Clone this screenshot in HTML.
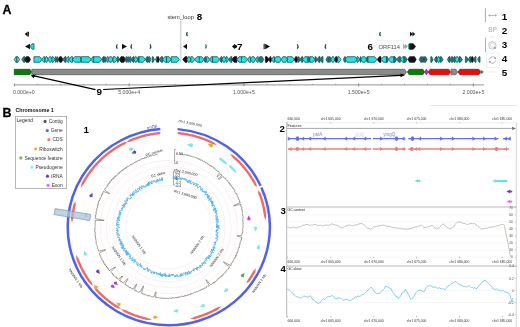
<!DOCTYPE html>
<html><head><meta charset="utf-8"><style>
html,body{margin:0;padding:0;background:#fff;width:520px;height:327px;overflow:hidden}
svg{display:block;filter:blur(0.3px)}
text{font-family:"Liberation Sans", sans-serif}
</style></head><body>
<svg width="520" height="327" viewBox="0 0 520 327">
<text x="2.5" y="13.5" font-size="12.4" fill="#000" font-weight="bold" text-anchor="start" stroke="#000" stroke-width="0.3">A</text>
<line x1="180.8" y1="20.8" x2="180.8" y2="62.5" stroke="#888" stroke-width="0.5"/>
<text x="167.4" y="19.4" font-size="5.75" fill="#333" font-weight="normal" text-anchor="start" >stem_loop</text>
<text x="196.7" y="20.4" font-size="9.8" fill="#000" font-weight="bold" text-anchor="start" >8</text>
<polygon points="24.60,34.10 27.60,31.70 27.60,36.50" fill="#111"/>
<rect x="27.6" y="31.700000000000003" width="1.3" height="4.8" fill="#111"/>
<path d="M187.40,32.10 Q185.80,34.10 187.40,36.10" fill="none" stroke="#1a4a4a" stroke-width="1.25"/>
<path d="M380.50,32.10 Q378.90,34.10 380.50,36.10" fill="none" stroke="#1a4a4a" stroke-width="1.25"/>
<polygon points="412.80,34.10 410.00,31.80 410.00,36.40" fill="#111"/>
<polygon points="415.20,34.10 412.40,31.80 412.40,36.40" fill="#111"/>
<polygon points="25.00,46.50 30.00,43.75 30.00,49.25" fill="#111"/>
<polygon points="30.00,46.50 32.20,43.75 34.00,43.75 34.00,49.25 32.20,49.25" fill="#22e4e4" stroke="#0a4f4f" stroke-width="0.75"/>
<path d="M117.30,44.25 Q115.70,46.50 117.30,48.75" fill="none" stroke="#1a4a4a" stroke-width="1.25"/>
<polygon points="127.00,46.50 122.00,43.75 122.00,49.25" fill="#111"/>
<path d="M131.80,44.25 Q130.20,46.50 131.80,48.75" fill="none" stroke="#1a4a4a" stroke-width="1.25"/>
<path d="M150.00,44.25 Q151.60,46.50 150.00,48.75" fill="none" stroke="#1a4a4a" stroke-width="1.25"/>
<polygon points="183.00,46.50 187.00,43.75 187.00,49.25" fill="#111"/>
<path d="M205.50,44.50 Q207.10,46.50 205.50,48.50" fill="none" stroke="#277" stroke-width="1.25"/>
<polygon points="232.00,46.50 235.00,43.75 235.00,49.25" fill="#111"/>
<circle cx="235.3" cy="46.5" r="1.8" fill="#111"/>
<rect x="263.6" y="43.75" width="1.1" height="5.5" fill="#111"/>
<polygon points="270.00,46.50 265.20,43.75 265.20,49.25" fill="#111"/>
<path d="M297.30,44.25 Q298.90,46.50 297.30,48.75" fill="none" stroke="#1a4a4a" stroke-width="1.25"/>
<path d="M326.00,44.25 Q324.40,46.50 326.00,48.75" fill="none" stroke="#1a4a4a" stroke-width="1.25"/>
<rect x="377" y="40.2" width="27" height="11.6" fill="#fbfbfb" stroke="#eee" stroke-width="0.6"/>
<text x="378.6" y="48.9" font-size="5.8" fill="#555" font-weight="normal" text-anchor="start" >ORF114</text>
<polygon points="406.00,46.50 403.00,43.75 403.00,49.25" fill="#aab"/>
<polygon points="408.00,46.50 405.00,43.75 405.00,49.25" fill="#9ab"/>
<rect x="408.2" y="43.75" width="1" height="5.5" fill="#0a6"/>
<polygon points="409.50,43.75 413.30,43.75 415.50,46.50 413.30,49.25 409.50,49.25" fill="#111" stroke="#111" stroke-width="0.75"/>
<text x="236.9" y="49.7" font-size="9.8" fill="#000" font-weight="bold" text-anchor="start" >7</text>
<text x="367.6" y="49.7" font-size="9.8" fill="#000" font-weight="bold" text-anchor="start" >6</text>
<polygon points="14.30,59.50 15.86,56.70 16.90,56.70 16.90,62.30 15.86,62.30" fill="#8cc8c8" stroke="#0a4f4f" stroke-width="0.75"/>
<polygon points="16.90,56.70 17.94,56.70 19.50,59.50 17.94,62.30 16.90,62.30" fill="#8cc8c8" stroke="#0a4f4f" stroke-width="0.75"/>
<polygon points="21.80,59.50 23.60,56.70 24.80,56.70 24.80,62.30 23.60,62.30" fill="#23807f" stroke="#0a4f4f" stroke-width="0.75"/>
<polygon points="24.60,59.50 26.20,56.70 28.90,56.70 30.50,59.50 28.90,62.30 26.20,62.30" fill="#111" stroke="#111" stroke-width="0.75"/>
<polygon points="33.90,56.70 39.80,56.70 42.00,59.50 39.80,62.30 33.90,62.30" fill="#22e4e4" stroke="#0a4f4f" stroke-width="0.75"/>
<polygon points="42.00,59.50 43.68,56.70 44.80,56.70 44.80,62.30 43.68,62.30" fill="#22e4e4" stroke="#0a4f4f" stroke-width="0.75"/>
<polygon points="44.80,59.50 45.99,56.70 47.01,56.70 48.20,59.50 47.01,62.30 45.99,62.30" fill="#22e4e4" stroke="#0a4f4f" stroke-width="0.75"/>
<polygon points="48.20,59.50 49.53,56.70 50.67,56.70 52.00,59.50 50.67,62.30 49.53,62.30" fill="#22e4e4" stroke="#0a4f4f" stroke-width="0.75"/>
<polygon points="52.00,56.70 53.20,56.70 55.00,59.50 53.20,62.30 52.00,62.30" fill="#22e4e4" stroke="#0a4f4f" stroke-width="0.75"/>
<polygon points="55.00,59.50 55.56,56.70 56.04,56.70 56.60,59.50 56.04,62.30 55.56,62.30" fill="#23807f" stroke="#0a4f4f" stroke-width="0.75"/>
<polygon points="56.60,59.50 57.16,56.70 57.64,56.70 58.20,59.50 57.64,62.30 57.16,62.30" fill="#23807f" stroke="#0a4f4f" stroke-width="0.75"/>
<polygon points="58.20,59.50 59.80,56.70 61.40,56.70 63.00,59.50 61.40,62.30 59.80,62.30" fill="#111" stroke="#111" stroke-width="0.75"/>
<polygon points="63.00,59.50 64.80,56.70 66.00,56.70 66.00,62.30 64.80,62.30" fill="#23807f" stroke="#0a4f4f" stroke-width="0.75"/>
<polygon points="66.00,59.50 67.80,56.70 69.00,56.70 69.00,62.30 67.80,62.30" fill="#22e4e4" stroke="#0a4f4f" stroke-width="0.75"/>
<polygon points="69.00,59.50 71.10,56.70 72.50,56.70 72.50,62.30 71.10,62.30" fill="#22e4e4" stroke="#0a4f4f" stroke-width="0.75"/>
<polygon points="72.50,59.50 74.70,56.70 80.60,56.70 80.60,62.30 74.70,62.30" fill="#22e4e4" stroke="#0a4f4f" stroke-width="0.75"/>
<polygon points="81.40,56.70 89.10,56.70 91.30,59.50 89.10,62.30 81.40,62.30" fill="#22e4e4" stroke="#0a4f4f" stroke-width="0.75"/>
<polygon points="91.30,59.50 92.68,56.70 93.60,56.70 93.60,62.30 92.68,62.30" fill="#22e4e4" stroke="#0a4f4f" stroke-width="0.75"/>
<polygon points="93.60,56.70 99.50,56.70 101.70,59.50 99.50,62.30 93.60,62.30" fill="#22e4e4" stroke="#0a4f4f" stroke-width="0.75"/>
<polygon points="101.70,59.50 103.08,56.70 104.00,56.70 104.00,62.30 103.08,62.30" fill="#23807f" stroke="#0a4f4f" stroke-width="0.75"/>
<polygon points="104.00,59.50 104.70,56.70 105.30,56.70 106.00,59.50 105.30,62.30 104.70,62.30" fill="#23807f" stroke="#0a4f4f" stroke-width="0.75"/>
<polygon points="106.00,59.50 107.32,56.70 108.20,56.70 108.20,62.30 107.32,62.30" fill="#22e4e4" stroke="#0a4f4f" stroke-width="0.75"/>
<polygon points="108.20,59.50 109.80,56.70 111.40,56.70 113.00,59.50 111.40,62.30 109.80,62.30" fill="#22e4e4" stroke="#0a4f4f" stroke-width="0.75"/>
<polygon points="113.00,56.70 115.10,56.70 117.30,59.50 115.10,62.30 113.00,62.30" fill="#22e4e4" stroke="#0a4f4f" stroke-width="0.75"/>
<polygon points="117.30,56.70 118.14,56.70 119.40,59.50 118.14,62.30 117.30,62.30" fill="#23807f" stroke="#0a4f4f" stroke-width="0.75"/>
<polygon points="119.40,59.50 121.00,56.70 123.80,56.70 125.40,59.50 123.80,62.30 121.00,62.30" fill="#111" stroke="#111" stroke-width="0.75"/>
<polygon points="125.40,59.50 126.03,56.70 126.57,56.70 127.20,59.50 126.57,62.30 126.03,62.30" fill="#23807f" stroke="#0a4f4f" stroke-width="0.75"/>
<polygon points="127.20,59.50 127.83,56.70 128.37,56.70 129.00,59.50 128.37,62.30 127.83,62.30" fill="#23807f" stroke="#0a4f4f" stroke-width="0.75"/>
<polygon points="129.00,59.50 129.88,56.70 130.62,56.70 131.50,59.50 130.62,62.30 129.88,62.30" fill="#23807f" stroke="#0a4f4f" stroke-width="0.75"/>
<polygon points="131.50,59.50 133.00,56.70 134.00,56.70 134.00,62.30 133.00,62.30" fill="#23807f" stroke="#0a4f4f" stroke-width="0.75"/>
<polygon points="134.00,59.50 135.26,56.70 136.34,56.70 137.60,59.50 136.34,62.30 135.26,62.30" fill="#22e4e4" stroke="#0a4f4f" stroke-width="0.75"/>
<polygon points="137.60,59.50 138.09,56.70 138.51,56.70 139.00,59.50 138.51,62.30 138.09,62.30" fill="#23807f" stroke="#0a4f4f" stroke-width="0.75"/>
<polygon points="139.00,56.70 143.20,56.70 145.40,59.50 143.20,62.30 139.00,62.30" fill="#22e4e4" stroke="#0a4f4f" stroke-width="0.75"/>
<polygon points="145.40,59.50 146.84,56.70 147.80,56.70 147.80,62.30 146.84,62.30" fill="#23807f" stroke="#0a4f4f" stroke-width="0.75"/>
<polygon points="147.60,59.50 148.72,56.70 149.68,56.70 150.80,59.50 149.68,62.30 148.72,62.30" fill="#23807f" stroke="#0a4f4f" stroke-width="0.75"/>
<polygon points="152.20,56.70 153.08,56.70 154.40,59.50 153.08,62.30 152.20,62.30" fill="#23807f" stroke="#0a4f4f" stroke-width="0.75"/>
<polygon points="155.60,59.50 156.68,56.70 157.40,56.70 157.40,62.30 156.68,62.30" fill="#23807f" stroke="#0a4f4f" stroke-width="0.75"/>
<polygon points="157.20,59.50 157.90,56.70 158.50,56.70 159.20,59.50 158.50,62.30 157.90,62.30" fill="#111" stroke="#111" stroke-width="0.75"/>
<polygon points="159.20,59.50 161.24,56.70 162.60,56.70 162.60,62.30 161.24,62.30" fill="#23807f" stroke="#0a4f4f" stroke-width="0.75"/>
<polygon points="162.60,59.50 164.80,56.70 166.60,56.70 166.60,62.30 164.80,62.30" fill="#22e4e4" stroke="#0a4f4f" stroke-width="0.75"/>
<polygon points="166.60,56.70 169.00,56.70 171.20,59.50 169.00,62.30 166.60,62.30" fill="#22e4e4" stroke="#0a4f4f" stroke-width="0.75"/>
<polygon points="171.20,56.70 177.10,56.70 179.30,59.50 177.10,62.30 171.20,62.30" fill="#22e4e4" stroke="#0a4f4f" stroke-width="0.75"/>
<polygon points="182.80,59.50 185.00,56.70 187.00,56.70 187.00,62.30 185.00,62.30" fill="#111" stroke="#111" stroke-width="0.75"/>
<polygon points="187.00,59.50 188.33,56.70 189.47,56.70 190.80,59.50 189.47,62.30 188.33,62.30" fill="#22e4e4" stroke="#0a4f4f" stroke-width="0.75"/>
<polygon points="190.80,56.70 192.60,56.70 194.80,59.50 192.60,62.30 190.80,62.30" fill="#22e4e4" stroke="#0a4f4f" stroke-width="0.75"/>
<polygon points="194.80,59.50 197.00,56.70 199.40,56.70 199.40,62.30 197.00,62.30" fill="#22e4e4" stroke="#0a4f4f" stroke-width="0.75"/>
<polygon points="199.40,56.70 201.80,56.70 204.00,59.50 201.80,62.30 199.40,62.30" fill="#22e4e4" stroke="#0a4f4f" stroke-width="0.75"/>
<polygon points="204.00,59.50 204.96,56.70 205.60,56.70 205.60,62.30 204.96,62.30" fill="#23807f" stroke="#0a4f4f" stroke-width="0.75"/>
<polygon points="206.50,56.70 207.82,56.70 209.80,59.50 207.82,62.30 206.50,62.30" fill="#22e4e4" stroke="#0a4f4f" stroke-width="0.75"/>
<polygon points="209.80,59.50 211.42,56.70 212.50,56.70 212.50,62.30 211.42,62.30" fill="#22e4e4" stroke="#0a4f4f" stroke-width="0.75"/>
<polygon points="212.50,56.70 217.40,56.70 219.60,59.50 217.40,62.30 212.50,62.30" fill="#22e4e4" stroke="#0a4f4f" stroke-width="0.75"/>
<polygon points="219.60,59.50 221.04,56.70 222.00,56.70 222.00,62.30 221.04,62.30" fill="#23807f" stroke="#0a4f4f" stroke-width="0.75"/>
<polygon points="222.00,59.50 223.40,56.70 224.60,56.70 226.00,59.50 224.60,62.30 223.40,62.30" fill="#22e4e4" stroke="#0a4f4f" stroke-width="0.75"/>
<polygon points="226.00,56.70 227.12,56.70 228.80,59.50 227.12,62.30 226.00,62.30" fill="#22e4e4" stroke="#0a4f4f" stroke-width="0.75"/>
<polygon points="228.80,59.50 230.66,56.70 231.90,56.70 231.90,62.30 230.66,62.30" fill="#23807f" stroke="#0a4f4f" stroke-width="0.75"/>
<polygon points="231.90,59.50 234.10,56.70 236.90,56.70 236.90,62.30 234.10,62.30" fill="#111" stroke="#111" stroke-width="0.75"/>
<polygon points="236.90,59.50 239.10,56.70 241.50,56.70 241.50,62.30 239.10,62.30" fill="#22e4e4" stroke="#0a4f4f" stroke-width="0.75"/>
<polygon points="241.50,56.70 245.40,56.70 247.60,59.50 245.40,62.30 241.50,62.30" fill="#22e4e4" stroke="#0a4f4f" stroke-width="0.75"/>
<polygon points="247.60,59.50 249.40,56.70 250.60,56.70 250.60,62.30 249.40,62.30" fill="#22e4e4" stroke="#0a4f4f" stroke-width="0.75"/>
<polygon points="250.60,59.50 252.20,56.70 254.00,56.70 255.60,59.50 254.00,62.30 252.20,62.30" fill="#22e4e4" stroke="#0a4f4f" stroke-width="0.75"/>
<polygon points="255.60,59.50 257.16,56.70 258.20,56.70 258.20,62.30 257.16,62.30" fill="#22e4e4" stroke="#0a4f4f" stroke-width="0.75"/>
<polygon points="258.20,59.50 259.80,56.70 262.20,56.70 263.80,59.50 262.20,62.30 259.80,62.30" fill="#23807f" stroke="#0a4f4f" stroke-width="0.75"/>
<polygon points="265.40,56.70 267.00,56.70 269.20,59.50 267.00,62.30 265.40,62.30" fill="#111" stroke="#111" stroke-width="0.75"/>
<polygon points="269.20,59.50 270.04,56.70 270.76,56.70 271.60,59.50 270.76,62.30 270.04,62.30" fill="#111" stroke="#111" stroke-width="0.75"/>
<polygon points="271.60,59.50 273.34,56.70 274.50,56.70 274.50,62.30 273.34,62.30" fill="#22e4e4" stroke="#0a4f4f" stroke-width="0.75"/>
<polygon points="274.50,59.50 276.10,56.70 279.60,56.70 281.20,59.50 279.60,62.30 276.10,62.30" fill="#22e4e4" stroke="#0a4f4f" stroke-width="0.75"/>
<polygon points="281.20,59.50 282.80,56.70 285.80,56.70 287.40,59.50 285.80,62.30 282.80,62.30" fill="#22e4e4" stroke="#0a4f4f" stroke-width="0.75"/>
<polygon points="287.40,56.70 292.20,56.70 294.40,59.50 292.20,62.30 287.40,62.30" fill="#22e4e4" stroke="#0a4f4f" stroke-width="0.75"/>
<polygon points="294.40,59.50 295.59,56.70 296.61,56.70 297.80,59.50 296.61,62.30 295.59,62.30" fill="#111" stroke="#111" stroke-width="0.75"/>
<polygon points="297.80,56.70 298.76,56.70 300.20,59.50 298.76,62.30 297.80,62.30" fill="#23807f" stroke="#0a4f4f" stroke-width="0.75"/>
<polygon points="300.20,59.50 301.64,56.70 302.60,56.70 302.60,62.30 301.64,62.30" fill="#23807f" stroke="#0a4f4f" stroke-width="0.75"/>
<polygon points="302.60,59.50 304.80,56.70 307.80,56.70 307.80,62.30 304.80,62.30" fill="#22e4e4" stroke="#0a4f4f" stroke-width="0.75"/>
<polygon points="307.80,59.50 308.50,56.70 309.10,56.70 309.80,59.50 309.10,62.30 308.50,62.30" fill="#23807f" stroke="#0a4f4f" stroke-width="0.75"/>
<polygon points="309.80,56.70 312.80,56.70 315.00,59.50 312.80,62.30 309.80,62.30" fill="#22e4e4" stroke="#0a4f4f" stroke-width="0.75"/>
<polygon points="315.00,56.70 315.80,56.70 317.00,59.50 315.80,62.30 315.00,62.30" fill="#23807f" stroke="#0a4f4f" stroke-width="0.75"/>
<polygon points="317.00,59.50 318.80,56.70 320.00,56.70 320.00,62.30 318.80,62.30" fill="#23807f" stroke="#0a4f4f" stroke-width="0.75"/>
<polygon points="320.00,59.50 321.80,56.70 323.00,56.70 323.00,62.30 321.80,62.30" fill="#23807f" stroke="#0a4f4f" stroke-width="0.75"/>
<polygon points="326.00,59.50 327.56,56.70 328.60,56.70 328.60,62.30 327.56,62.30" fill="#23807f" stroke="#0a4f4f" stroke-width="0.75"/>
<polygon points="328.60,59.50 329.44,56.70 330.16,56.70 331.00,59.50 330.16,62.30 329.44,62.30" fill="#23807f" stroke="#0a4f4f" stroke-width="0.75"/>
<polygon points="331.00,59.50 332.33,56.70 333.47,56.70 334.80,59.50 333.47,62.30 332.33,62.30" fill="#22e4e4" stroke="#0a4f4f" stroke-width="0.75"/>
<polygon points="334.80,59.50 335.78,56.70 336.62,56.70 337.60,59.50 336.62,62.30 335.78,62.30" fill="#111" stroke="#111" stroke-width="0.75"/>
<polygon points="337.60,56.70 339.04,56.70 341.20,59.50 339.04,62.30 337.60,62.30" fill="#22e4e4" stroke="#0a4f4f" stroke-width="0.75"/>
<polygon points="343.40,59.50 344.60,56.70 345.40,56.70 345.40,62.30 344.60,62.30" fill="#23807f" stroke="#0a4f4f" stroke-width="0.75"/>
<polygon points="345.40,59.50 347.00,56.70 355.40,56.70 357.00,59.50 355.40,62.30 347.00,62.30" fill="#22e4e4" stroke="#0a4f4f" stroke-width="0.75"/>
<polygon points="357.00,56.70 358.04,56.70 359.60,59.50 358.04,62.30 357.00,62.30" fill="#22e4e4" stroke="#0a4f4f" stroke-width="0.75"/>
<polygon points="359.60,59.50 360.44,56.70 361.00,56.70 361.00,62.30 360.44,62.30" fill="#23807f" stroke="#0a4f4f" stroke-width="0.75"/>
<polygon points="361.00,59.50 362.60,56.70 364.80,56.70 366.40,59.50 364.80,62.30 362.60,62.30" fill="#22e4e4" stroke="#0a4f4f" stroke-width="0.75"/>
<polygon points="366.40,59.50 366.96,56.70 367.44,56.70 368.00,59.50 367.44,62.30 366.96,62.30" fill="#23807f" stroke="#0a4f4f" stroke-width="0.75"/>
<polygon points="368.00,56.70 374.70,56.70 376.90,59.50 374.70,62.30 368.00,62.30" fill="#22e4e4" stroke="#0a4f4f" stroke-width="0.75"/>
<polygon points="377.20,59.50 379.40,56.70 381.00,56.70 381.00,62.30 379.40,62.30" fill="#111" stroke="#111" stroke-width="0.75"/>
<polygon points="381.20,59.50 383.40,56.70 386.60,56.70 386.60,62.30 383.40,62.30" fill="#22e4e4" stroke="#0a4f4f" stroke-width="0.75"/>
<polygon points="386.60,56.70 387.32,56.70 388.40,59.50 387.32,62.30 386.60,62.30" fill="#23807f" stroke="#0a4f4f" stroke-width="0.75"/>
<polygon points="388.40,59.50 390.60,56.70 394.00,56.70 394.00,62.30 390.60,62.30" fill="#22e4e4" stroke="#0a4f4f" stroke-width="0.75"/>
<polygon points="394.00,56.70 395.04,56.70 396.60,59.50 395.04,62.30 394.00,62.30" fill="#23807f" stroke="#0a4f4f" stroke-width="0.75"/>
<polygon points="396.60,59.50 398.80,56.70 400.40,56.70 400.40,62.30 398.80,62.30" fill="#23807f" stroke="#0a4f4f" stroke-width="0.75"/>
<polygon points="400.40,59.50 402.56,56.70 404.00,56.70 404.00,62.30 402.56,62.30" fill="#22e4e4" stroke="#0a4f4f" stroke-width="0.75"/>
<polygon points="404.00,56.70 405.36,56.70 407.40,59.50 405.36,62.30 404.00,62.30" fill="#23807f" stroke="#0a4f4f" stroke-width="0.75"/>
<polygon points="408.00,59.50 409.60,56.70 414.60,56.70 416.20,59.50 414.60,62.30 409.60,62.30" fill="#111" stroke="#111" stroke-width="0.75"/>
<polygon points="419.20,59.50 420.64,56.70 421.60,56.70 421.60,62.30 420.64,62.30" fill="#23807f" stroke="#0a4f4f" stroke-width="0.75"/>
<polygon points="421.60,59.50 422.58,56.70 423.42,56.70 424.40,59.50 423.42,62.30 422.58,62.30" fill="#3d5a5a" stroke="#0a4f4f" stroke-width="0.75"/>
<polygon points="424.40,56.70 425.52,56.70 427.20,59.50 425.52,62.30 424.40,62.30" fill="#4d6262" stroke="#0a4f4f" stroke-width="0.75"/>
<polygon points="430.80,56.70 431.68,56.70 433.00,59.50 431.68,62.30 430.80,62.30" fill="#23807f" stroke="#0a4f4f" stroke-width="0.75"/>
<polygon points="434.40,59.50 435.96,56.70 437.00,56.70 437.00,62.30 435.96,62.30" fill="#23807f" stroke="#0a4f4f" stroke-width="0.75"/>
<polygon points="437.00,59.50 438.12,56.70 439.08,56.70 440.20,59.50 439.08,62.30 438.12,62.30" fill="#22e4e4" stroke="#0a4f4f" stroke-width="0.75"/>
<polygon points="440.20,56.70 441.32,56.70 443.00,59.50 441.32,62.30 440.20,62.30" fill="#23807f" stroke="#0a4f4f" stroke-width="0.75"/>
<polygon points="447.40,59.50 448.96,56.70 450.00,56.70 450.00,62.30 448.96,62.30" fill="#23807f" stroke="#0a4f4f" stroke-width="0.75"/>
<polygon points="450.00,59.50 451.56,56.70 452.60,56.70 452.60,62.30 451.56,62.30" fill="#23807f" stroke="#0a4f4f" stroke-width="0.75"/>
<polygon points="452.60,59.50 454.16,56.70 455.20,56.70 455.20,62.30 454.16,62.30" fill="#23807f" stroke="#0a4f4f" stroke-width="0.75"/>
<polygon points="455.20,59.50 456.53,56.70 457.67,56.70 459.00,59.50 457.67,62.30 456.53,62.30" fill="#22e4e4" stroke="#0a4f4f" stroke-width="0.75"/>
<polygon points="459.00,56.70 460.36,56.70 462.40,59.50 460.36,62.30 459.00,62.30" fill="#23807f" stroke="#0a4f4f" stroke-width="0.75"/>
<polygon points="465.40,56.70 466.52,56.70 468.20,59.50 466.52,62.30 465.40,62.30" fill="#23807f" stroke="#0a4f4f" stroke-width="0.75"/>
<polygon points="468.20,59.50 469.88,56.70 471.00,56.70 471.00,62.30 469.88,62.30" fill="#23807f" stroke="#0a4f4f" stroke-width="0.75"/>
<polygon points="471.00,59.50 471.91,56.70 472.69,56.70 473.60,59.50 472.69,62.30 471.91,62.30" fill="#111" stroke="#111" stroke-width="0.75"/>
<polygon points="473.60,59.50 475.04,56.70 476.00,56.70 476.00,62.30 475.04,62.30" fill="#23807f" stroke="#0a4f4f" stroke-width="0.75"/>
<polygon points="477.70,59.50 479.08,56.70 480.00,56.70 480.00,62.30 479.08,62.30" fill="#23807f" stroke="#0a4f4f" stroke-width="0.75"/>
<polygon points="14.30,69.30 29.80,69.30 31.60,72.00 29.80,74.70 14.30,74.70" fill="#0a7a0a" stroke="#064d06" stroke-width="0.7"/>
<polygon points="31.80,69.30 404.70,69.30 406.50,72.00 404.70,74.70 31.80,74.70" fill="#8a8a8a" stroke="#505050" stroke-width="0.7"/>
<polygon points="409.20,69.30 422.80,69.30 424.60,72.00 422.80,74.70 409.20,74.70 407.40,72.00" fill="#0b7d0b" stroke="#065006" stroke-width="0.7"/>
<polygon points="426.40,69.30 426.20,69.30 428.00,72.00 426.20,74.70 426.40,74.70 424.60,72.00" fill="#c020c0" stroke="#901090" stroke-width="0.7"/>
<polygon points="430.00,69.30 448.80,69.30 450.60,72.00 448.80,74.70 430.00,74.70 428.20,72.00" fill="#e21010" stroke="#a00" stroke-width="0.7"/>
<polygon points="451.00,69.30 455.80,69.30 457.60,72.00 455.80,74.70 451.00,74.70" fill="#8a8a8a" stroke="#555" stroke-width="0.7"/>
<polygon points="459.80,69.30 478.80,69.30 480.60,72.00 478.80,74.70 459.80,74.70 458.00,72.00" fill="#e21010" stroke="#a00" stroke-width="0.7"/>
<polygon points="484.00,72.00 480.60,69.50 480.60,74.50" fill="#1a8f8f"/>
<line x1="14.4" y1="84.9" x2="484" y2="84.9" stroke="#8a8a8a" stroke-width="0.9"/>
<line x1="14.40" y1="83.3" x2="14.40" y2="86.4" stroke="#777" stroke-width="0.8"/>
<line x1="37.35" y1="83.8" x2="37.35" y2="85.0" stroke="#777" stroke-width="0.6"/>
<line x1="60.30" y1="83.8" x2="60.30" y2="85.0" stroke="#777" stroke-width="0.6"/>
<line x1="83.25" y1="83.8" x2="83.25" y2="85.0" stroke="#777" stroke-width="0.6"/>
<line x1="106.20" y1="83.8" x2="106.20" y2="85.0" stroke="#777" stroke-width="0.6"/>
<line x1="129.15" y1="83.3" x2="129.15" y2="86.4" stroke="#777" stroke-width="0.8"/>
<line x1="152.10" y1="83.8" x2="152.10" y2="85.0" stroke="#777" stroke-width="0.6"/>
<line x1="175.05" y1="83.8" x2="175.05" y2="85.0" stroke="#777" stroke-width="0.6"/>
<line x1="198.00" y1="83.8" x2="198.00" y2="85.0" stroke="#777" stroke-width="0.6"/>
<line x1="220.95" y1="83.8" x2="220.95" y2="85.0" stroke="#777" stroke-width="0.6"/>
<line x1="243.90" y1="83.3" x2="243.90" y2="86.4" stroke="#777" stroke-width="0.8"/>
<line x1="266.85" y1="83.8" x2="266.85" y2="85.0" stroke="#777" stroke-width="0.6"/>
<line x1="289.80" y1="83.8" x2="289.80" y2="85.0" stroke="#777" stroke-width="0.6"/>
<line x1="312.75" y1="83.8" x2="312.75" y2="85.0" stroke="#777" stroke-width="0.6"/>
<line x1="335.70" y1="83.8" x2="335.70" y2="85.0" stroke="#777" stroke-width="0.6"/>
<line x1="358.65" y1="83.3" x2="358.65" y2="86.4" stroke="#777" stroke-width="0.8"/>
<line x1="381.60" y1="83.8" x2="381.60" y2="85.0" stroke="#777" stroke-width="0.6"/>
<line x1="404.55" y1="83.8" x2="404.55" y2="85.0" stroke="#777" stroke-width="0.6"/>
<line x1="427.50" y1="83.8" x2="427.50" y2="85.0" stroke="#777" stroke-width="0.6"/>
<line x1="450.45" y1="83.8" x2="450.45" y2="85.0" stroke="#777" stroke-width="0.6"/>
<line x1="473.40" y1="83.3" x2="473.40" y2="86.4" stroke="#777" stroke-width="0.8"/>
<text x="23.8" y="93.6" font-size="5.2" fill="#555" font-weight="normal" text-anchor="middle" >0.000e+0</text>
<text x="129.15" y="93.6" font-size="5.2" fill="#555" font-weight="normal" text-anchor="middle" >5.000e+4</text>
<text x="243.9" y="93.6" font-size="5.2" fill="#555" font-weight="normal" text-anchor="middle" >1.000e+5</text>
<text x="358.65" y="93.6" font-size="5.2" fill="#555" font-weight="normal" text-anchor="middle" >1.500e+5</text>
<text x="473.4" y="93.6" font-size="5.2" fill="#555" font-weight="normal" text-anchor="middle" >2.000e+5</text>
<line x1="33" y1="75.6" x2="95.5" y2="89.6" stroke="#000" stroke-width="1.2"/>
<polygon points="30.8,75.2 35.6,74.6 33.6,78.2" fill="#000"/>
<line x1="103.2" y1="89.5" x2="401" y2="75.3" stroke="#000" stroke-width="1.2"/>
<polygon points="405,75.1 400.4,73.4 400.6,77.2" fill="#000"/>
<text x="96.5" y="94.7" font-size="9.9" fill="#000" font-weight="bold" text-anchor="start" >9</text>
<line x1="485.4" y1="8.2" x2="485.4" y2="22.1" stroke="#7ec3dc" stroke-width="1.1"/>
<line x1="485.5" y1="37.6" x2="485.5" y2="52.2" stroke="#7ec3dc" stroke-width="1.1"/>
<line x1="488.6" y1="15.4" x2="496.4" y2="15.4" stroke="#8a9aa8" stroke-width="0.7"/>
<polyline points="490,14.3 488.6,15.4 490,16.5" fill="none" stroke="#8a9aa8" stroke-width="0.6"/>
<polyline points="495,14.3 496.4,15.4 495,16.5" fill="none" stroke="#8a9aa8" stroke-width="0.6"/>
<line x1="489.5" y1="22.2" x2="494" y2="22.2" stroke="#ddd" stroke-width="0.5"/>
<text x="488.2" y="32.3" font-size="6.6" fill="#aaa" font-weight="normal" text-anchor="start" >BP</text>
<line x1="489.5" y1="37.2" x2="494" y2="37.2" stroke="#ddd" stroke-width="0.5"/>
<circle cx="492.4" cy="45.4" r="3.7" fill="none" stroke="#aaa" stroke-width="0.7"/>
<circle cx="492.4" cy="45.4" r="2.1" fill="none" stroke="#bbb" stroke-width="0.5"/>
<circle cx="494.9" cy="47.9" r="1" fill="#999"/>
<rect x="486.3" y="53.1" width="13" height="14.2" fill="none" stroke="#e6e6e6" stroke-width="0.6"/>
<path d="M489.4,59.4 A3.2,3.2 0 0 1 495.3,58.2" fill="none" stroke="#999" stroke-width="0.7"/>
<path d="M495.6,60.6 A3.2,3.2 0 0 1 489.7,61.8" fill="none" stroke="#999" stroke-width="0.7"/>
<polygon points="495.9,56.9 496.1,59.3 493.9,58.6" fill="#999"/>
<polygon points="489.1,63.1 488.9,60.7 491.1,61.4" fill="#999"/>
<circle cx="489.6" cy="71.9" r="0.45" fill="#999"/>
<circle cx="491.8" cy="71.9" r="0.45" fill="#999"/>
<circle cx="494.0" cy="71.9" r="0.45" fill="#999"/>
<text x="501.8" y="20.3" font-size="9.9" fill="#000" font-weight="bold" text-anchor="start" >1</text>
<text x="501.8" y="34.0" font-size="9.9" fill="#000" font-weight="bold" text-anchor="start" >2</text>
<text x="501.8" y="48.0" font-size="9.9" fill="#000" font-weight="bold" text-anchor="start" >3</text>
<text x="501.8" y="62.0" font-size="9.9" fill="#000" font-weight="bold" text-anchor="start" >4</text>
<text x="501.8" y="75.8" font-size="9.9" fill="#000" font-weight="bold" text-anchor="start" >5</text>
<text x="2.5" y="117.1" font-size="12.4" fill="#000" font-weight="bold" text-anchor="start" stroke="#000" stroke-width="0.3">B</text>
<text x="15.5" y="112.1" font-size="5.25" fill="#111" font-weight="bold" text-anchor="start" >Chromosome 1</text>
<rect x="15.6" y="116.6" width="51.1" height="72.0" fill="#fff" stroke="#888" stroke-width="0.6"/>
<text x="16.6" y="121.8" font-size="4.9" fill="#222" font-weight="normal" text-anchor="start" >Legend</text>
<circle cx="45.08" cy="121.40" r="1.6" fill="#555"/>
<text x="62.7" y="123.15" font-size="4.85" fill="#333" font-weight="normal" text-anchor="end" >Contig</text>
<circle cx="47.24" cy="130.53" r="1.6" fill="#5b6be8"/>
<text x="62.7" y="132.28" font-size="4.85" fill="#333" font-weight="normal" text-anchor="end" >Gene</text>
<circle cx="48.86" cy="139.66" r="1.6" fill="#ee7b7b"/>
<text x="62.7" y="141.41" font-size="4.85" fill="#333" font-weight="normal" text-anchor="end" >CDS</text>
<circle cx="35.65" cy="148.79" r="1.6" fill="#e7b23a"/>
<text x="62.7" y="150.54000000000002" font-size="4.85" fill="#333" font-weight="normal" text-anchor="end" >Riboswitch</text>
<circle cx="20.81" cy="157.92" r="1.6" fill="#7bb64a"/>
<text x="62.7" y="159.67000000000002" font-size="4.85" fill="#333" font-weight="normal" text-anchor="end" >Sequence feature</text>
<circle cx="31.86" cy="167.05" r="1.6" fill="#8eecec"/>
<text x="62.7" y="168.8" font-size="4.85" fill="#333" font-weight="normal" text-anchor="end" >Pseudogene</text>
<circle cx="47.51" cy="176.18" r="1.6" fill="#6a3fc8"/>
<text x="62.7" y="177.93" font-size="4.85" fill="#333" font-weight="normal" text-anchor="end" >tRNA</text>
<circle cx="48.05" cy="185.31" r="1.6" fill="#e070e0"/>
<text x="62.7" y="187.06" font-size="4.85" fill="#333" font-weight="normal" text-anchor="end" >Exon</text>
<text x="83.6" y="133.4" font-size="9.9" fill="#000" font-weight="bold" text-anchor="start" >1</text>
<g transform="translate(168.8,227.0) scale(1,0.972)">
<circle cx="0" cy="0" r="68.5" fill="none" stroke="#f4e8e8" stroke-width="0.6"/>
<circle cx="0" cy="0" r="62.5" fill="none" stroke="#f1eaea" stroke-width="0.6"/>
<circle cx="0" cy="0" r="56.5" fill="none" stroke="#f2e6e6" stroke-width="0.6"/>
<circle cx="0" cy="0" r="43" fill="none" stroke="#f0eded" stroke-width="0.6"/>
<path d="M8.81,-100.72 A101.1,101.1 0 0 1 91.78,-42.41" fill="none" stroke="#5262e6" stroke-width="2.5" opacity="1"/>
<path d="M92.57,-40.64 A101.1,101.1 0 1 1 -8.46,-100.75" fill="none" stroke="#5262e6" stroke-width="2.5" opacity="1"/>
<polygon points="8.45,-96.63 9.57,-97.73 10.59,-97.63 11.60,-97.51 12.62,-97.39 13.63,-97.25 14.64,-97.10 15.64,-96.95 16.65,-96.78 17.65,-96.60 18.66,-96.41 19.66,-96.21 20.66,-96.00 21.65,-95.78 22.65,-95.55 23.64,-95.31 24.63,-95.06 25.61,-94.80 26.60,-94.53 27.58,-94.25 28.55,-93.96 29.53,-93.66 30.50,-93.34 31.47,-93.02 32.43,-92.69 33.39,-92.35 34.35,-92.00 35.31,-91.63 36.26,-91.26 37.20,-90.88 38.14,-90.49 39.08,-90.09 40.02,-89.68 40.95,-89.26 41.87,-88.83 42.79,-88.39 43.71,-87.94 44.62,-87.48 45.42,-86.80 46.20,-86.11 46.98,-85.42 47.74,-84.71 48.50,-84.00 48.50,-84.00 47.51,-84.29 46.51,-84.57 45.52,-84.84 44.52,-85.09 43.53,-85.34 42.64,-85.79 41.75,-86.23 40.85,-86.66 39.94,-87.07 39.04,-87.49 38.13,-87.89 37.21,-88.28 36.29,-88.66 35.37,-89.03 34.44,-89.39 33.51,-89.75 32.58,-90.09 31.64,-90.42 30.70,-90.75 29.76,-91.06 28.81,-91.37 27.86,-91.66 26.90,-91.94 25.95,-92.22 24.99,-92.48 24.02,-92.74 23.06,-92.98 22.09,-93.22 21.12,-93.44 20.15,-93.66 19.18,-93.86 18.20,-94.06 17.22,-94.24 16.24,-94.41 15.26,-94.58 14.28,-94.73 13.29,-94.87 12.31,-95.01 11.32,-95.13 10.33,-95.24 9.34,-95.34 8.45,-96.63" fill="#ec6a6a" opacity="1"/>
<polygon points="61.04,-75.38 61.97,-74.93 62.90,-74.47 63.82,-74.00 64.74,-73.52 65.65,-73.03 66.40,-72.35 67.14,-71.66 67.88,-70.96 68.61,-70.26 69.33,-69.55 70.04,-68.83 70.75,-68.10 71.45,-67.37 72.14,-66.63 72.82,-65.88 73.50,-65.13 74.16,-64.37 74.82,-63.60 75.48,-62.82 76.12,-62.04 76.76,-61.25 77.38,-60.46 78.00,-59.66 78.61,-58.85 79.22,-58.04 79.81,-57.22 80.40,-56.39 80.97,-55.56 81.54,-54.72 82.10,-53.87 82.65,-53.03 83.20,-52.17 83.73,-51.31 84.25,-50.44 84.77,-49.57 85.28,-48.69 85.77,-47.81 86.26,-46.93 86.74,-46.03 87.21,-45.14 87.67,-44.23 87.77,-43.15 87.85,-42.07 87.91,-40.99 87.91,-40.99 87.12,-41.73 86.33,-42.45 85.53,-43.15 85.08,-44.03 84.62,-44.91 84.15,-45.78 83.68,-46.64 83.19,-47.50 82.70,-48.36 82.19,-49.21 81.68,-50.06 81.16,-50.90 80.63,-51.73 80.10,-52.56 79.55,-53.38 78.99,-54.20 78.43,-55.01 77.86,-55.82 77.28,-56.62 76.69,-57.41 76.10,-58.20 75.49,-58.98 74.88,-59.76 74.26,-60.52 73.63,-61.29 72.99,-62.04 72.35,-62.79 71.70,-63.54 71.04,-64.27 70.37,-65.00 69.70,-65.72 69.02,-66.44 68.33,-67.15 67.63,-67.85 66.93,-68.54 66.22,-69.23 65.50,-69.91 64.78,-70.58 64.05,-71.24 63.47,-72.08 62.88,-72.91 62.28,-73.74 61.67,-74.56 61.04,-75.38" fill="#ec6a6a" opacity="1"/>
<polygon points="89.29,-37.90 90.05,-37.13 90.80,-36.34 91.54,-35.54 91.91,-34.59 92.26,-33.64 92.60,-32.68 92.94,-31.72 93.26,-30.75 93.57,-29.78 93.88,-28.81 94.17,-27.84 94.45,-26.86 94.73,-25.88 94.99,-24.90 95.24,-23.91 95.49,-22.92 95.72,-21.93 95.94,-20.94 96.15,-19.95 96.35,-18.95 96.55,-17.95 96.73,-16.95 96.90,-15.94 97.06,-14.94 97.21,-13.93 97.35,-12.92 97.47,-11.91 97.36,-10.88 97.23,-9.84 97.08,-8.81 96.93,-7.79 96.76,-6.77 96.76,-6.77 96.45,-7.75 96.12,-8.73 95.79,-9.70 95.44,-10.66 95.09,-11.62 94.97,-12.61 94.83,-13.59 94.69,-14.57 94.53,-15.55 94.36,-16.53 94.19,-17.51 94.00,-18.48 93.80,-19.46 93.60,-20.43 93.38,-21.40 93.15,-22.36 92.92,-23.33 92.67,-24.29 92.41,-25.25 92.15,-26.21 91.87,-27.16 91.58,-28.11 91.29,-29.06 90.98,-30.00 90.67,-30.94 90.34,-31.88 90.00,-32.81 89.66,-33.75 89.31,-34.67 89.31,-35.74 89.31,-36.82 89.29,-37.90" fill="#ec6a6a" opacity="1"/>
<polygon points="87.18,42.52 87.00,43.59 86.81,44.66 86.60,45.72 86.35,46.77 85.84,47.69 85.33,48.60 84.80,49.51 84.27,50.41 83.73,51.31 83.18,52.20 82.62,53.08 82.04,53.96 81.46,54.83 80.88,55.70 80.06,56.40 79.20,57.07 78.34,57.73 77.47,58.38 77.47,58.38 77.84,57.36 78.19,56.35 78.53,55.33 78.90,54.34 79.47,53.49 80.04,52.64 80.60,51.79 81.14,50.92 81.68,50.06 82.21,49.18 82.73,48.30 83.24,47.42 83.74,46.53 84.23,45.63 84.95,44.85 85.70,44.09 86.45,43.31 87.18,42.52" fill="#ec6a6a" opacity="1"/>
<polygon points="52.83,81.35 52.10,82.11 51.36,82.86 50.62,83.61 49.86,84.35 49.08,85.06 48.18,85.57 47.28,86.07 46.37,86.56 45.46,87.05 44.54,87.52 43.61,87.98 42.69,88.44 41.75,88.88 40.81,89.32 39.87,89.74 38.93,90.16 37.98,90.56 37.02,90.95 36.06,91.34 35.10,91.71 34.13,92.08 33.16,92.43 32.19,92.78 31.21,93.11 30.23,93.43 29.24,93.75 28.25,94.05 27.26,94.34 26.27,94.62 25.21,94.68 24.16,94.70 23.10,94.71 22.05,94.71 20.99,94.70 20.99,94.70 21.93,94.24 22.87,93.76 23.79,93.28 24.71,92.79 25.63,92.31 26.60,92.03 27.56,91.75 28.53,91.45 29.49,91.15 30.44,90.83 31.40,90.51 32.35,90.17 33.30,89.83 34.24,89.47 35.18,89.11 36.12,88.73 37.05,88.35 37.97,87.95 38.90,87.55 39.82,87.13 40.73,86.71 41.64,86.28 42.55,85.83 43.45,85.38 44.34,84.92 45.24,84.45 46.12,83.97 47.00,83.48 47.88,82.98 48.86,82.66 49.86,82.35 50.85,82.03 51.84,81.70 52.83,81.35" fill="#ec6a6a" opacity="1"/>
<polygon points="-16.84,95.53 -17.87,95.58 -18.90,95.63 -19.94,95.66 -20.97,95.69 -22.01,95.70 -23.00,95.47 -23.98,95.23 -24.96,94.97 -25.94,94.71 -26.92,94.44 -27.89,94.16 -28.86,93.86 -29.83,93.56 -30.79,93.25 -31.75,92.93 -32.71,92.59 -33.66,92.25 -34.61,91.90 -35.56,91.54 -36.50,91.17 -37.44,90.78 -38.37,90.39 -39.30,89.99 -40.23,89.58 -41.15,89.16 -42.07,88.73 -42.98,88.30 -43.89,87.85 -44.79,87.39 -45.55,86.66 -46.30,85.92 -47.04,85.18 -47.77,84.42 -47.77,84.42 -46.75,84.65 -45.73,84.86 -44.71,85.06 -43.70,85.25 -42.81,85.70 -41.93,86.14 -41.04,86.57 -40.14,86.98 -39.24,87.39 -38.34,87.79 -37.43,88.18 -36.52,88.57 -35.61,88.94 -34.69,89.30 -33.76,89.65 -32.84,90.00 -31.91,90.33 -30.97,90.65 -30.04,90.97 -29.10,91.27 -28.15,91.57 -27.21,91.85 -26.26,92.13 -25.31,92.40 -24.35,92.65 -23.40,92.90 -22.44,93.14 -21.48,93.36 -20.56,93.81 -19.64,94.25 -18.72,94.69 -17.78,95.11 -16.84,95.53" fill="#ec6a6a" opacity="1"/>
<polygon points="-47.77,84.42 -48.79,84.18 -49.82,83.93 -50.85,83.67 -51.88,83.38 -52.74,82.83 -53.60,82.28 -54.46,81.72 -55.31,81.14 -56.15,80.56 -56.99,79.97 -57.82,79.38 -58.64,78.77 -59.46,78.15 -60.27,77.53 -61.08,76.90 -61.87,76.26 -62.66,75.61 -63.45,74.95 -64.23,74.28 -65.00,73.61 -65.76,72.93 -66.52,72.24 -67.27,71.54 -68.01,70.84 -68.74,70.12 -69.47,69.40 -70.19,68.68 -70.90,67.94 -71.61,67.20 -72.30,66.45 -72.99,65.69 -73.50,64.77 -73.99,63.85 -74.46,62.92 -74.93,61.98 -75.38,61.04 -75.38,61.04 -74.56,61.67 -73.72,62.29 -72.89,62.90 -72.05,63.49 -71.21,64.09 -70.54,64.82 -69.86,65.56 -69.17,66.28 -68.48,67.00 -67.77,67.71 -67.06,68.41 -66.35,69.11 -65.62,69.79 -64.89,70.47 -64.15,71.15 -63.41,71.81 -62.66,72.47 -61.90,73.12 -61.13,73.76 -60.36,74.39 -59.58,75.02 -58.80,75.63 -58.01,76.24 -57.21,76.84 -56.40,77.44 -55.59,78.02 -54.78,78.59 -53.96,79.16 -53.13,79.72 -52.29,80.27 -51.45,80.81 -50.61,81.34 -49.91,82.11 -49.20,82.89 -48.49,83.66 -47.77,84.42" fill="#ec6a6a" opacity="1"/>
<polygon points="-75.60,60.78 -76.43,60.13 -77.25,59.47 -78.07,58.80 -78.89,58.12 -79.67,57.40 -80.28,56.56 -80.87,55.71 -81.45,54.85 -82.03,53.99 -82.60,53.12 -83.15,52.24 -83.70,51.36 -84.24,50.47 -84.77,49.58 -85.29,48.68 -85.80,47.77 -86.30,46.87 -86.79,45.95 -87.27,45.03 -87.74,44.11 -88.20,43.18 -88.65,42.24 -89.09,41.30 -89.52,40.36 -89.94,39.41 -90.36,38.46 -90.76,37.50 -91.15,36.54 -91.53,35.57 -91.90,34.60 -92.26,33.63 -92.41,32.58 -92.51,31.52 -92.61,30.47 -92.69,29.41 -92.76,28.36 -92.76,28.36 -92.22,29.26 -91.67,30.16 -91.12,31.05 -90.55,31.93 -90.01,32.81 -89.65,33.76 -89.29,34.70 -88.92,35.65 -88.54,36.58 -88.15,37.52 -87.75,38.45 -87.34,39.37 -86.91,40.29 -86.48,41.21 -86.04,42.12 -85.59,43.03 -85.13,43.93 -84.66,44.83 -84.19,45.72 -83.70,46.61 -83.20,47.49 -82.69,48.37 -82.18,49.24 -81.65,50.10 -81.12,50.96 -80.58,51.82 -80.02,52.67 -79.46,53.51 -78.89,54.35 -78.31,55.18 -77.73,56.00 -77.30,56.95 -76.89,57.91 -76.47,58.87 -76.04,59.83 -75.60,60.78" fill="#ec6a6a" opacity="1"/>
<polygon points="-96.89,-4.57 -97.15,-5.61 -97.39,-6.65 -97.62,-7.71 -97.81,-8.76 -97.71,-9.79 -97.60,-10.82 -97.48,-11.85 -97.35,-12.88 -97.21,-13.91 -97.06,-14.93 -96.90,-15.95 -96.72,-16.98 -96.54,-18.00 -96.34,-19.01 -96.14,-20.03 -95.92,-21.04 -95.69,-22.05 -95.45,-23.06 -94.93,-24.00 -94.38,-24.92 -93.82,-25.83 -93.24,-26.74 -93.24,-26.74 -93.22,-25.67 -93.19,-24.61 -93.15,-23.55 -93.12,-22.50 -93.35,-21.51 -93.57,-20.53 -93.79,-19.54 -93.99,-18.55 -94.18,-17.56 -94.36,-16.56 -94.53,-15.56 -94.69,-14.57 -94.83,-13.57 -94.97,-12.56 -95.10,-11.56 -95.22,-10.56 -95.32,-9.55 -95.42,-8.55 -95.78,-7.56 -96.16,-6.57 -96.53,-5.57 -96.89,-4.57" fill="#ec6a6a" opacity="1"/>
<polygon points="-88.27,-40.23 -88.06,-41.25 -87.85,-42.27 -87.62,-43.29 -87.38,-44.31 -87.12,-45.32 -86.64,-46.23 -86.15,-47.13 -85.66,-48.02 -85.15,-48.91 -84.64,-49.80 -84.11,-50.68 -83.58,-51.55 -83.04,-52.42 -82.49,-53.28 -81.93,-54.14 -81.36,-54.99 -80.78,-55.83 -80.20,-56.67 -79.60,-57.50 -79.00,-58.33 -78.39,-59.15 -77.77,-59.96 -77.14,-60.77 -76.50,-61.57 -75.85,-62.36 -75.20,-63.15 -74.54,-63.93 -73.87,-64.70 -73.19,-65.47 -72.50,-66.23 -71.81,-66.98 -71.11,-67.73 -70.40,-68.46 -69.68,-69.19 -68.96,-69.92 -68.22,-70.63 -67.49,-71.34 -66.74,-72.04 -65.98,-72.73 -65.22,-73.41 -64.45,-74.09 -63.68,-74.75 -62.90,-75.41 -62.11,-76.07 -61.31,-76.71 -60.51,-77.34 -59.70,-77.97 -58.88,-78.59 -58.06,-79.20 -57.23,-79.80 -56.40,-80.39 -55.56,-80.97 -54.71,-81.55 -53.86,-82.11 -53.00,-82.67 -52.14,-83.22 -51.27,-83.76 -50.39,-84.29 -49.51,-84.81 -48.62,-85.32 -47.73,-85.82 -46.83,-86.31 -45.93,-86.80 -45.03,-87.27 -43.94,-87.38 -42.85,-87.47 -41.76,-87.55 -41.76,-87.55 -42.49,-86.75 -43.21,-85.94 -43.93,-85.14 -44.81,-84.67 -45.69,-84.20 -46.56,-83.72 -47.43,-83.23 -48.30,-82.73 -49.16,-82.23 -50.01,-81.71 -50.86,-81.18 -51.70,-80.65 -52.54,-80.11 -53.37,-79.55 -54.20,-78.99 -55.02,-78.42 -55.83,-77.85 -56.64,-77.26 -57.44,-76.67 -58.24,-76.06 -59.03,-75.45 -59.81,-74.83 -60.59,-74.21 -61.36,-73.57 -62.12,-72.93 -62.88,-72.28 -63.63,-71.62 -64.37,-70.95 -65.11,-70.28 -65.84,-69.59 -66.56,-68.90 -67.27,-68.21 -67.98,-67.50 -68.68,-66.79 -69.37,-66.07 -70.06,-65.34 -70.73,-64.61 -71.40,-63.87 -72.06,-63.12 -72.72,-62.37 -73.36,-61.61 -74.00,-60.84 -74.63,-60.07 -75.25,-59.28 -75.87,-58.50 -76.47,-57.70 -77.07,-56.90 -77.66,-56.10 -78.24,-55.29 -78.81,-54.47 -79.37,-53.64 -79.93,-52.81 -80.47,-51.98 -81.01,-51.14 -81.54,-50.29 -82.06,-49.44 -82.57,-48.58 -83.07,-47.72 -83.56,-46.85 -84.05,-45.97 -84.52,-45.10 -84.99,-44.21 -85.65,-43.43 -86.31,-42.64 -86.97,-41.85 -87.62,-41.04 -88.27,-40.23" fill="#ec6a6a" opacity="1"/>
<polygon points="-42.06,-87.40 -41.32,-88.20 -40.57,-89.00 -39.80,-89.77 -38.86,-90.18 -37.92,-90.58 -36.97,-90.97 -36.02,-91.35 -35.07,-91.72 -34.11,-92.09 -33.15,-92.44 -32.18,-92.78 -31.22,-93.11 -30.24,-93.43 -29.27,-93.74 -28.29,-94.04 -27.31,-94.33 -26.32,-94.61 -25.34,-94.88 -24.35,-95.13 -23.35,-95.38 -22.36,-95.62 -21.36,-95.85 -20.36,-96.07 -19.36,-96.27 -18.35,-96.47 -17.35,-96.66 -16.34,-96.83 -15.33,-97.00 -14.32,-97.15 -13.30,-97.29 -12.29,-97.43 -11.27,-97.55 -10.25,-97.66 -9.24,-97.76 -8.12,-96.66 -8.12,-96.66 -9.01,-95.38 -10.00,-95.28 -11.00,-95.17 -11.99,-95.05 -12.98,-94.92 -13.97,-94.78 -14.95,-94.63 -15.94,-94.46 -16.92,-94.29 -17.90,-94.11 -18.88,-93.92 -19.86,-93.72 -20.84,-93.51 -21.81,-93.28 -22.78,-93.05 -23.75,-92.81 -24.72,-92.56 -25.68,-92.29 -26.64,-92.02 -27.60,-91.74 -28.55,-91.45 -29.50,-91.14 -30.45,-90.83 -31.40,-90.51 -32.34,-90.18 -33.28,-89.83 -34.21,-89.48 -35.14,-89.12 -36.07,-88.75 -36.99,-88.37 -37.91,-87.98 -38.83,-87.58 -39.90,-87.53 -40.98,-87.47 -42.06,-87.40" fill="#ec6a6a" opacity="1"/>
<polygon points="50.27,-71.00 51.83,-71.36 52.69,-70.74 53.53,-70.10 54.37,-69.45 55.21,-68.79 56.03,-68.12 56.85,-67.44 57.53,-66.60 57.99,-65.53 58.44,-64.45 58.44,-64.45 57.33,-64.77 56.21,-65.08 55.30,-65.60 54.51,-66.26 53.70,-66.91 52.89,-67.56 52.08,-68.19 51.25,-68.81 50.42,-69.42 50.27,-71.00" fill="#7ee8e8" opacity="1"/>
<polygon points="60.41,-63.44 62.00,-63.58 62.75,-62.83 63.49,-62.09 64.22,-61.33 64.94,-60.56 65.66,-59.79 66.36,-59.00 66.91,-58.08 67.21,-56.96 67.50,-55.84 67.50,-55.84 66.45,-56.31 65.40,-56.77 64.57,-57.41 63.88,-58.17 63.19,-58.92 62.49,-59.67 61.77,-60.41 61.05,-61.14 60.32,-61.86 60.41,-63.44" fill="#7ee8e8" opacity="1"/>
<polygon points="-39.91,-78.98 -39.66,-81.12 -38.57,-81.57 -37.26,-81.54 -35.95,-81.50 -34.65,-81.43 -34.65,-81.43 -35.48,-80.43 -36.29,-79.43 -37.08,-78.43 -38.08,-77.88 -39.91,-78.98" fill="#7ee8e8" opacity="1"/>
<polygon points="-37.35,-75.53 -36.64,-76.45 -35.91,-77.37 -35.17,-78.28 -34.29,-78.93 -32.62,-77.69 -32.62,-77.69 -32.86,-75.63 -33.89,-75.44 -35.03,-75.49 -36.19,-75.52 -37.35,-75.53" fill="#6a3fc8" opacity="1"/>
<polygon points="-78.38,-30.51 -79.67,-32.15 -79.04,-33.04 -78.15,-33.81 -77.25,-34.56 -76.35,-35.30 -76.35,-35.30 -76.30,-34.14 -76.24,-32.99 -76.16,-31.84 -76.33,-30.81 -78.38,-30.51" fill="#6a3fc8" opacity="1"/>
<polygon points="18.03,-85.10 19.21,-85.39 20.40,-85.67 21.60,-85.94 22.71,-85.83 23.78,-85.54 24.34,-83.51 24.34,-83.51 22.81,-82.07 21.79,-82.35 20.80,-82.79 19.90,-83.57 18.97,-84.34 18.03,-85.10" fill="#7ee8e8" opacity="1"/>
<polygon points="38.69,-85.64 39.81,-85.68 40.93,-85.70 42.06,-85.71 43.11,-85.52 44.01,-85.06 44.07,-83.00 44.07,-83.00 42.36,-81.86 41.49,-82.31 40.74,-83.02 40.07,-83.90 39.38,-84.77 38.69,-85.64" fill="#e8a93a" opacity="1"/>
<polygon points="90.36,17.83 90.67,19.00 90.97,20.18 91.26,21.37 91.17,22.48 89.16,23.10 89.16,23.10 87.68,21.62 88.10,20.63 88.86,19.71 89.62,18.78 90.36,17.83" fill="#7ee8e8" opacity="1"/>
<polygon points="75.61,47.20 75.49,48.36 75.36,49.52 75.20,50.69 74.81,51.70 72.73,51.53 72.73,51.53 71.84,49.65 72.62,48.94 73.62,48.38 74.62,47.80 75.61,47.20" fill="#55a84a" opacity="1"/>
<polygon points="59.01,63.63 59.42,65.69 58.48,66.29 57.30,66.60 56.12,66.90 54.94,67.17 54.94,67.17 55.42,66.07 55.89,64.97 56.33,63.86 57.00,63.02 59.01,63.63" fill="#7ee8e8" opacity="1"/>
<polygon points="36.08,80.21 35.81,82.29 34.73,82.56 33.51,82.48 32.29,82.38 31.09,82.27 31.09,82.27 31.90,81.38 32.69,80.48 33.47,79.57 34.37,78.99 36.08,80.21" fill="#7ee8e8" opacity="1"/>
<polygon points="9.69,86.16 8.79,88.06 7.68,87.99 6.54,87.54 5.42,87.07 4.31,86.60 4.31,86.60 5.35,86.00 6.38,85.38 7.40,84.76 8.43,84.48 9.69,86.16" fill="#7ee8e8" opacity="1"/>
<polygon points="-82.96,29.52 -85.01,29.12 -85.12,28.04 -84.95,26.88 -84.76,25.72 -84.56,24.57 -84.56,24.57 -83.77,25.42 -82.97,26.25 -82.16,27.06 -81.60,27.95 -82.96,29.52" fill="#7ee8e8" opacity="1"/>
<polygon points="-69.04,48.45 -70.06,47.89 -71.08,47.31 -72.09,46.71 -72.87,45.94 -71.89,44.10 -71.89,44.10 -69.82,44.02 -69.47,45.01 -69.35,46.15 -69.20,47.30 -69.04,48.45" fill="#6a3fc8" opacity="1"/>
<polygon points="-53.92,63.07 -55.28,62.72 -56.64,62.34 -57.95,61.89 -57.62,59.71 -57.62,59.71 -55.49,59.26 -54.96,60.49 -54.46,61.78 -53.92,63.07" fill="#b040d0" opacity="1"/>
<polygon points="-50.92,59.78 -52.28,59.43 -53.64,59.05 -54.95,58.59 -54.62,56.42 -54.62,56.42 -52.49,55.97 -51.96,57.20 -51.46,58.49 -50.92,59.78" fill="#b040d0" opacity="1"/>
<polygon points="-71.40,63.39 -73.45,63.79 -73.95,62.83 -74.23,61.69 -74.50,60.55 -74.75,59.41 -74.75,59.41 -73.69,59.89 -72.63,60.36 -71.58,60.81 -70.73,61.43 -71.40,63.39" fill="#e8a93a" opacity="1"/>
<polygon points="-48.29,80.59 -50.12,81.58 -50.89,80.82 -51.50,79.81 -52.10,78.80 -52.67,77.79 -52.67,77.79 -51.52,77.93 -50.37,78.06 -49.23,78.18 -48.24,78.51 -48.29,80.59" fill="#e8a93a" opacity="1"/>
<polygon points="-10.52,93.23 -11.62,93.62 -12.72,94.00 -13.84,94.37 -14.92,94.45 -15.67,92.50 -15.67,92.50 -14.36,90.89 -13.39,91.28 -12.45,91.94 -11.49,92.59 -10.52,93.23" fill="#e8a93a" opacity="1"/>
<polygon points="79.66,-11.84 80.32,-10.88 80.97,-9.90 81.61,-8.91 81.96,-7.88 80.26,-6.67 80.26,-6.67 78.37,-7.54 78.51,-8.57 78.91,-9.65 79.29,-10.74 79.66,-11.84" fill="#d040d0" opacity="1"/>
<polygon points="86.72,-0.54 88.52,0.51 88.27,1.57 87.73,2.61 87.17,3.64 86.60,4.66 86.60,4.66 86.13,3.60 85.65,2.55 85.15,1.51 84.92,0.49 86.72,-0.54" fill="#7ee8e8" opacity="1"/>
<polygon points="-83.13,-9.87 -84.79,-11.09 -84.36,-12.06 -83.71,-12.99 -83.06,-13.91 -82.39,-14.81 -82.39,-14.81 -82.07,-13.74 -81.74,-12.69 -81.39,-11.64 -81.22,-10.63 -83.13,-9.87" fill="#7ee8e8" opacity="1"/>
<path d="M10.56,-75.15 L10.93,-74.93 L11.40,-75.38 L11.71,-74.76 L12.17,-75.17 L12.54,-74.95 L12.88,-74.59 L13.35,-74.97 L13.66,-74.45 L14.13,-74.78 L14.45,-74.35 L14.85,-74.31 L15.31,-74.56 L15.78,-74.88 L16.03,-74.12 L16.44,-74.14 L16.92,-74.45 L17.38,-74.68 L17.68,-74.23 L18.03,-73.97 L18.56,-74.44 L18.72,-73.45 L19.31,-74.14 L19.55,-73.49 L19.90,-73.25 L20.28,-73.12 L20.71,-73.19 L21.24,-73.57 L21.44,-72.85 L21.94,-73.12 L22.34,-73.06 L22.64,-72.69 L23.07,-72.73 L23.30,-72.15 L23.68,-72.02 L24.10,-72.03 L24.63,-72.35 L24.92,-71.98 L25.26,-71.74 L25.73,-71.85 L26.06,-71.59 L26.38,-71.30 L26.92,-71.62 L27.26,-71.38 L27.47,-70.81 L27.95,-70.97 L28.30,-70.77 L28.80,-70.93 L29.12,-70.64 L29.31,-70.07 L29.94,-70.55 L29.97,-69.59 L30.45,-69.70 L30.95,-69.84 L31.06,-69.11 L31.56,-69.25 L31.73,-68.66 L32.35,-69.05 L32.74,-68.96 L33.02,-68.61 L33.50,-68.69 L33.61,-68.00 L34.13,-68.16 L34.44,-67.88 L34.78,-67.67 L35.07,-67.37 L35.59,-67.51 L35.99,-67.40 L36.11,-66.79 L36.55,-66.75 L36.60,-66.02 L37.25,-66.38 L37.56,-66.12 L38.07,-66.21 L38.33,-65.85 L38.39,-65.18 L38.78,-65.05 L39.26,-65.08 L39.25,-64.31 L39.81,-64.46 L39.99,-64.00 L40.29,-63.73 L40.58,-63.46 L41.29,-63.83 L41.27,-63.07 L41.66,-62.94 L42.06,-62.83 L42.65,-63.00 L42.53,-62.11 L43.05,-62.18 L43.43,-62.02 L43.94,-62.06 L44.22,-61.77 L44.56,-61.56 L44.53,-60.85 L44.93,-60.71 L45.20,-60.42 L45.83,-60.60 L46.18,-60.41 L46.00,-59.52 L46.32,-59.29 L46.66,-59.08 L46.96,-58.83 L47.42,-58.77 L47.79,-58.60 L47.88,-58.09 L48.02,-57.63 L48.58,-57.69 L48.85,-57.39 L49.27,-57.28 L49.82,-57.31 L49.94,-56.85 L50.12,-56.45 L50.48,-56.26 L50.81,-56.03 L49.55,-54.07 L48.14,-51.99 L48.33,-51.64 L49.80,-52.67 L52.33,-54.76 L52.33,-54.19 L52.61,-53.92 L52.69,-53.43 L53.34,-53.53 L49.66,-49.32 L49.92,-49.06 L50.28,-48.90 L54.11,-52.07 L54.51,-51.90 L54.57,-51.42 L54.80,-51.10 L55.18,-50.91 L55.41,-50.59 L55.87,-50.48 L55.88,-49.96 L56.78,-50.23 L56.84,-49.76 L56.75,-49.16 L57.09,-48.93 L57.42,-48.70 L57.69,-48.41 L57.76,-47.95 L58.57,-48.11 L58.94,-47.90 L58.78,-47.26 L59.04,-46.97 L58.98,-46.41 L59.24,-46.12 L59.67,-45.95 L59.85,-45.60 L60.55,-45.63 L60.25,-44.91 L60.38,-44.52 L61.37,-44.75 L61.26,-44.18 L61.18,-43.64 L61.74,-43.55 L61.55,-42.94 L62.19,-42.90 L62.79,-42.83 L62.92,-42.44 L63.01,-42.02 L62.87,-41.45 L63.18,-41.18 L63.23,-40.75 L63.96,-40.74 L63.97,-40.28 L64.39,-40.08 L64.22,-39.51 L64.34,-39.12 L65.05,-39.09 L65.41,-38.84 L65.50,-38.43 L65.66,-38.06 L65.88,-37.73 L66.01,-37.35 L65.76,-36.75 L66.21,-36.55 L66.26,-36.12 L66.16,-35.62 L66.34,-35.28 L66.75,-35.05 L66.92,-34.69 L67.49,-34.53 L67.90,-34.30 L67.63,-33.72 L68.24,-33.58 L68.46,-33.24 L68.60,-32.87 L68.24,-32.26 L68.28,-31.84 L68.45,-31.48 L68.58,-31.11 L68.75,-30.75 L69.29,-30.56 L69.70,-30.31 L69.80,-29.91 L69.62,-29.41 L69.92,-29.11 L70.21,-28.79 L69.69,-28.16 L70.36,-28.00 L70.74,-27.72 L70.75,-27.30 L70.86,-26.92 L70.74,-26.45 L70.58,-25.97 L71.28,-25.80 L70.98,-25.27 L71.54,-25.05 L67.41,-23.21 L64.77,-21.92 L64.88,-21.58 L69.93,-22.86 L72.05,-23.13 L71.63,-22.58 L71.69,-22.19 L71.81,-21.82 L72.64,-21.65 L72.64,-21.24 L72.10,-20.67 L72.85,-20.48 L73.09,-20.13 L72.86,-19.66 L72.65,-19.20 L72.93,-18.86 L72.60,-18.37 L72.57,-17.96 L73.57,-17.80 L73.33,-17.33 L73.28,-16.92 L73.75,-16.62 L73.32,-16.12 L73.82,-15.82 L73.83,-15.42 L73.29,-14.91 L73.38,-14.53 L73.48,-14.15 L73.48,-13.75 L73.86,-13.42 L73.59,-12.98 L73.79,-12.61 L73.55,-12.18 L74.36,-11.91 L73.84,-11.43 L73.98,-11.06 L74.14,-10.68 L74.49,-10.34 L74.03,-9.88 L74.55,-9.55 L74.16,-9.11 L74.22,-8.72 L74.23,-8.33 L73.74,-7.88 L74.18,-7.53 L73.93,-7.12 L73.76,-6.71 L74.56,-6.39 L73.95,-5.95 L74.25,-5.58 L74.50,-5.21 L74.34,-4.81 L74.10,-4.40 L74.29,-4.02 L74.32,-3.63 L74.54,-3.25 L73.86,-2.84 L74.30,-2.46 L73.97,-2.07 L73.98,-1.68 L74.46,-1.30 L74.18,-0.91 L74.21,-0.52 L74.39,-0.13 L74.51,0.26 L74.02,0.65 L74.16,1.04 L74.02,1.42 L73.99,1.81 L74.14,2.20 L73.86,2.58 L73.91,2.97 L73.81,3.35 L74.23,3.76 L73.95,4.13 L74.08,4.53 L74.10,4.92 L73.37,5.26 L73.62,5.66 L73.95,6.08 L73.80,6.46 L73.04,6.78 L72.97,7.16 L73.24,7.57 L72.81,7.91 L72.92,8.31 L72.69,8.67 L71.56,8.91 L68.31,8.87 L68.35,9.24 L69.20,9.73 L72.99,10.65 L72.86,11.02 L72.28,11.32 L72.94,11.81 L72.94,12.21 L72.13,12.46 L72.77,12.96 L72.15,13.24 L72.15,13.63 L72.56,14.10 L72.32,14.45 L71.58,14.69 L71.75,15.12 L71.75,15.51 L71.48,15.85 L71.25,16.19 L71.28,16.59 L71.58,17.05 L70.80,17.26 L71.22,17.76 L71.01,18.10 L70.50,18.36 L70.70,18.81 L70.87,19.26 L70.66,19.60 L70.12,19.84 L70.90,20.46 L70.60,20.78 L70.66,21.20 L69.72,21.31 L69.76,21.73 L69.42,22.02 L70.01,22.61 L69.41,22.82 L69.15,23.14 L69.31,23.59 L69.64,24.12 L69.43,24.45 L68.77,24.62 L68.54,24.95 L69.13,25.57 L68.67,25.81 L68.66,26.22 L67.95,26.36 L67.78,26.70 L68.23,27.29 L67.84,27.55 L67.38,27.77 L68.03,28.46 L67.60,28.70 L67.61,29.12 L66.80,29.18 L67.35,29.85 L66.48,29.88 L67.05,30.56 L66.52,30.74 L66.26,31.04 L66.29,31.48 L66.46,31.99 L65.70,32.05 L65.41,32.33 L65.60,32.85 L65.17,33.06 L64.89,33.35 L64.76,33.71 L64.49,34.00 L64.44,34.41 L64.36,34.80 L64.18,35.13 L64.39,35.69 L63.79,35.80 L63.79,36.24 L63.32,36.41 L63.28,36.83 L62.80,36.99 L62.81,37.44 L62.41,37.65 L62.83,38.35 L62.47,38.58 L61.96,38.72 L62.00,39.19 L62.18,39.77 L59.04,38.19 L54.97,35.97 L54.46,36.04 L56.53,37.85 L61.03,41.32 L60.45,41.39 L60.32,41.77 L60.25,42.19 L60.26,42.67 L59.52,42.61 L59.69,43.21 L59.36,43.44 L59.07,43.71 L58.65,43.87 L58.37,44.14 L57.90,44.27 L57.72,44.61 L57.44,44.87 L57.72,45.59 L57.10,45.58 L56.78,45.82 L56.47,46.06 L56.81,46.83 L56.58,47.14 L56.17,47.30 L55.62,47.34 L55.34,47.60 L55.12,47.91 L54.98,48.30 L54.50,48.38 L54.45,48.85 L54.05,49.01 L54.30,49.76 L54.04,50.04 L53.46,50.02 L52.96,50.09 L53.21,50.85 L52.47,50.67 L52.22,50.96 L51.69,50.98 L51.69,51.51 L51.47,51.83 L51.21,52.11 L50.72,52.15 L50.64,52.63 L50.01,52.52 L49.91,52.96 L49.50,53.08 L49.42,53.56 L48.89,53.54 L48.58,53.77 L48.48,54.22 L48.14,54.41 L48.07,54.91 L47.74,55.11 L47.58,55.52 L47.22,55.68 L46.96,55.96 L46.76,56.32 L46.14,56.17 L45.80,56.35 L45.90,57.09 L45.07,56.66 L45.12,57.34 L44.76,57.50 L44.08,57.24 L44.25,58.09 L43.97,58.35 L43.50,58.36 L43.25,58.66 L42.98,58.94 L42.27,58.60 L42.17,59.12 L41.84,59.32 L39.04,55.97 L37.40,54.21 L37.12,54.41 L39.30,58.26 L40.45,60.66 L40.01,60.68 L39.69,60.89 L39.11,60.69 L38.68,60.72 L38.41,61.00 L38.21,61.38 L37.74,61.35 L37.80,62.16 L37.32,62.11 L37.03,62.36 L36.69,62.54 L36.39,62.77 L35.96,62.79 L35.38,62.54 L35.44,63.41 L35.08,63.55 L34.63,63.51 L34.30,63.71 L34.02,63.99 L33.41,63.64 L33.38,64.40 L32.82,64.14 L32.40,64.15 L32.15,64.48 L32.02,65.06 L31.44,64.76 L31.33,65.40 L31.09,65.77 L30.54,65.50 L30.15,65.55 L29.85,65.80 L29.58,66.14 L29.27,66.37 L28.86,66.38 L28.53,66.56 L27.96,66.19 L27.64,66.40 L27.33,66.64 L27.17,67.24 L26.65,66.98 L26.40,67.37 L25.85,66.99 L25.52,67.17 L25.24,67.51 L25.03,68.02 L24.68,68.18 L24.32,68.30 L23.84,68.07 L23.56,68.41 L23.18,68.49 L22.83,68.62 L22.36,68.42 L22.24,69.28 L21.68,68.75 L21.55,69.61 L21.18,69.70 L20.55,68.94 L20.32,69.48 L20.06,69.94 L19.73,70.20 L19.23,69.82 L18.82,69.76 L18.44,69.81 L18.27,70.63 L17.72,70.03 L17.45,70.49 L16.98,70.17 L16.70,70.65 L16.43,71.17 L15.88,70.47 L15.66,71.24 L15.23,71.03 L14.94,71.49 L14.53,71.41 L14.07,71.04 L13.82,71.78 L13.37,71.47 L12.92,71.10 L12.55,71.16 L12.26,71.72 L11.88,71.76 L11.48,71.70 L11.09,71.61 L10.74,71.89 L10.37,71.94 L10.06,72.53 L9.58,71.77 L9.30,72.58 L8.93,72.73 L8.47,72.08 L8.18,72.94 L7.78,72.79 L7.42,73.03 L6.98,72.48 L6.61,72.62 L6.23,72.69 L5.90,73.34 L5.49,72.98 L5.09,72.80 L4.71,72.91 L4.32,72.80 L3.93,72.61 L3.56,72.70 L3.21,73.46 L2.80,72.95 L2.44,73.63 L2.04,72.97 L1.66,73.01 L1.28,73.28 L0.89,72.98 L0.51,73.18 L0.13,73.78 L-0.26,73.72 L-0.64,73.66 L-1.03,73.49 L-1.42,73.77 L-1.80,73.81 L-2.18,73.42 L-2.57,73.59 L-2.93,72.91 L-3.34,73.59 L-3.71,73.30 L-4.11,73.59 L-4.49,73.47 L-4.86,73.10 L-5.22,72.85 L-5.67,73.70 L-5.99,72.88 L-6.40,73.20 L-6.78,73.05 L-7.15,72.97 L-7.58,73.38 L-7.99,73.58 L-8.30,72.83 L-8.73,73.18 L-9.07,72.79 L-9.48,73.00 L-9.84,72.79 L-10.19,72.52 L-10.57,72.46 L-10.96,72.45 L-11.45,73.09 L-11.76,72.63 L-12.10,72.29 L-12.59,72.91 L-12.99,72.93 L-13.27,72.32 L-12.67,67.03 L-13.03,67.02 L-13.36,66.85 L-14.76,71.92 L-15.09,71.60 L-15.49,71.66 L-15.87,71.60 L-16.32,71.81 L-16.76,72.03 L-17.11,71.81 L-17.40,71.39 L-17.78,71.29 L-18.18,71.30 L-18.51,71.06 L-18.87,70.92 L-19.17,70.55 L-19.59,70.65 L-20.15,71.21 L-20.29,70.29 L-20.76,70.54 L-21.17,70.55 L-21.60,70.65 L-21.78,69.92 L-22.16,69.85 L-22.51,69.70 L-22.92,69.72 L-23.30,69.64 L-23.83,69.99 L-24.16,69.76 L-24.53,69.65 L-24.60,68.72 L-24.96,68.59 L-25.56,69.09 L-25.98,69.12 L-26.19,68.59 L-26.59,68.55 L-26.73,67.86 L-27.23,68.07 L-26.78,65.95 L-25.05,60.78 L-25.38,60.67 L-26.78,63.09 L-28.93,67.18 L-29.23,66.89 L-29.59,66.78 L-30.09,66.95 L-30.50,66.94 L-30.96,67.01 L-31.22,66.64 L-31.53,66.41 L-31.93,66.34 L-32.14,65.89 L-32.52,65.81 L-32.64,65.17 L-33.31,65.66 L-33.40,65.00 L-34.06,65.43 L-34.27,65.00 L-34.45,64.52 L-31.85,58.91 L-32.22,58.85 L-32.71,59.01 L-35.99,64.13 L-36.03,63.43 L-36.34,63.20 L-36.90,63.40 L-37.26,63.26 L-37.50,62.90 L-37.74,62.56 L-38.26,62.69 L-38.28,61.99 L-38.76,62.03 L-39.17,61.97 L-39.77,62.19 L-39.93,61.72 L-40.38,61.71 L-40.48,61.16 L-40.67,60.75 L-41.00,60.55 L-41.72,60.93 L-41.90,60.51 L-41.99,59.97 L-42.14,59.52 L-42.74,59.69 L-43.16,59.62 L-43.32,59.19 L-43.54,58.84 L-44.10,58.95 L-42.16,55.74 L-40.81,53.38 L-40.98,53.02 L-43.92,56.21 L-45.51,57.62 L-45.98,57.60 L-45.98,56.99 L-46.67,57.22 L-46.94,56.94 L-47.09,56.52 L-47.20,56.06 L-48.00,56.40 L-47.88,55.66 L-48.51,55.80 L-48.42,55.12 L-48.71,54.87 L-49.37,55.02 L-46.00,50.73 L-46.71,50.98 L-46.68,50.41 L-50.16,53.60 L-50.48,53.38 L-50.90,53.27 L-51.36,53.19 L-51.85,53.13 L-51.58,52.30 L-52.04,52.22 L-52.19,51.83 L-53.02,52.10 L-52.71,51.25 L-52.92,50.93 L-53.21,50.67 L-53.73,50.63 L-54.37,50.70 L-54.64,50.42 L-54.80,50.04 L-55.28,49.95 L-55.50,49.62 L-55.32,48.94 L-55.48,48.57 L-56.32,48.78 L-56.44,48.37 L-56.16,47.63 L-56.91,47.75 L-56.95,47.28 L-57.21,46.99 L-57.43,46.67 L-57.56,46.28 L-57.69,45.88 L-56.32,44.32 L-52.94,41.21 L-53.65,41.31 L-55.07,41.95 L-59.70,44.99 L-59.34,44.23 L-59.70,44.02 L-60.32,43.98 L-60.56,43.68 L-60.48,43.14 L-60.40,42.61 L-60.99,42.54 L-61.14,42.17 L-61.82,42.17 L-61.45,41.45 L-61.81,41.22 L-62.48,41.20 L-61.98,40.41 L-62.52,40.29 L-63.08,40.19 L-63.26,39.84 L-62.86,39.13 L-63.07,38.80 L-63.30,38.49 L-64.24,38.60 L-63.88,37.93 L-64.51,37.85 L-64.84,37.59 L-64.56,36.97 L-64.70,36.60 L-65.49,36.60 L-65.39,36.10 L-65.27,35.59 L-65.86,35.46 L-65.69,34.93 L-65.84,34.57 L-65.78,34.10 L-66.63,34.10 L-66.96,33.82 L-66.88,33.35 L-67.33,33.13 L-66.68,32.38 L-67.04,32.12 L-67.42,31.87 L-68.02,31.72 L-68.18,31.36 L-67.83,30.77 L-67.86,30.36 L-68.18,30.07 L-68.39,29.74 L-68.95,29.55 L-68.41,28.90 L-69.13,28.78 L-69.21,28.39 L-69.43,28.05 L-69.53,27.67 L-69.51,27.24 L-69.39,26.77 L-67.33,25.58 L-63.13,23.60 L-63.64,23.41 L-65.28,23.63 L-69.91,24.89 L-70.55,24.71 L-70.20,24.17 L-70.14,23.74 L-70.22,23.36 L-70.83,23.15 L-70.72,22.71 L-71.46,22.53 L-71.47,22.12 L-71.68,21.78 L-71.09,21.19 L-71.01,20.77 L-71.12,20.39 L-71.60,20.13 L-71.90,19.80 L-71.74,19.36 L-71.62,18.92 L-71.88,18.59 L-72.17,18.26 L-72.30,17.89 L-72.45,17.53 L-72.63,17.17 L-72.53,16.74 L-72.07,16.24 L-72.85,16.02 L-72.38,15.52 L-72.72,15.19 L-72.60,14.77 L-73.02,14.46 L-72.55,13.97 L-72.66,13.60 L-72.72,13.22 L-72.68,12.82 L-73.46,12.56 L-73.21,12.12 L-73.01,11.69 L-73.13,11.32 L-73.77,11.02 L-73.33,10.57 L-73.10,10.14 L-73.72,9.84 L-73.60,9.43 L-73.98,9.08 L-73.13,8.59 L-73.54,8.25 L-73.91,7.90 L-73.97,7.51 L-74.07,7.13 L-73.23,6.66 L-73.51,6.30 L-73.36,5.90 L-73.45,5.52 L-74.25,5.19 L-73.88,4.78 L-74.25,4.41 L-73.71,3.99 L-74.21,3.63 L-73.81,3.22 L-73.63,2.83 L-74.16,2.46 L-74.33,2.08 L-73.50,1.67 L-74.00,1.29 L-74.02,0.90 L-73.62,0.51 L-73.77,0.13 L-73.54,-0.26 L-73.60,-0.64 L-73.65,-1.03 L-73.99,-1.42 L-74.03,-1.81 L-73.57,-2.18 L-73.37,-2.56 L-73.67,-2.96 L-74.01,-3.36 L-73.50,-3.72 L-73.61,-4.12 L-73.48,-4.49 L-74.05,-4.92 L-73.78,-5.29 L-73.28,-5.64 L-73.29,-6.03 L-73.56,-6.44 L-73.68,-6.84 L-68.10,-6.68 L-64.71,-6.69 L-64.75,-7.03 L-70.88,-8.08 L-73.37,-8.75 L-73.21,-9.12 L-73.19,-9.51 L-73.79,-9.98 L-73.11,-10.28 L-73.32,-10.70 L-73.06,-11.05 L-73.07,-11.44 L-73.47,-11.90 L-73.54,-12.31 L-72.87,-12.59 L-72.65,-12.94 L-73.11,-13.42 L-72.54,-13.71 L-72.28,-14.05 L-73.10,-14.61 L-72.57,-14.90 L-72.89,-15.36 L-72.41,-15.66 L-72.81,-16.14 L-72.33,-16.43 L-71.96,-16.75 L-71.74,-17.09 L-72.19,-17.60 L-72.19,-18.00 L-72.37,-18.45 L-71.49,-18.62 L-71.92,-19.14 L-71.60,-19.45 L-71.63,-19.87 L-71.20,-20.15 L-71.24,-20.56 L-71.37,-21.01 L-71.66,-21.50 L-70.78,-21.64 L-71.04,-22.13 L-71.24,-22.60 L-71.29,-23.03 L-70.45,-23.16 L-70.27,-23.51 L-70.94,-24.15 L-70.85,-24.53 L-70.27,-24.75 L-69.75,-24.97 L-70.45,-25.64 L-69.82,-25.83 L-70.18,-26.38 L-69.79,-26.65 L-69.85,-27.09 L-69.10,-27.22 L-69.55,-27.82 L-68.89,-27.97 L-68.92,-28.41 L-69.19,-28.94 L-69.03,-29.30 L-68.30,-29.41 L-68.18,-29.79 L-68.20,-30.22 L-68.16,-30.63 L-67.88,-30.94 L-67.49,-31.19 L-67.45,-31.60 L-67.72,-32.16 L-67.72,-32.59 L-66.78,-32.57 L-67.09,-33.16 L-67.09,-33.60 L-66.28,-33.63 L-66.82,-34.34 L-66.01,-34.36 L-66.26,-34.93 L-66.03,-35.26 L-65.92,-35.64 L-65.45,-35.84 L-65.37,-36.23 L-65.32,-36.66 L-61.52,-34.95 L-59.81,-34.39 L-59.44,-34.60 L-62.70,-36.93 L-63.87,-38.08 L-64.18,-38.72 L-63.87,-38.99 L-63.45,-39.19 L-63.69,-39.80 L-63.49,-40.14 L-63.01,-40.30 L-62.57,-40.48 L-62.60,-40.96 L-62.08,-41.09 L-61.88,-41.42 L-61.91,-41.91 L-61.40,-42.04 L-61.47,-42.56 L-61.30,-42.92 L-60.69,-42.97 L-60.94,-43.63 L-60.26,-43.62 L-60.55,-44.32 L-60.35,-44.66 L-59.90,-44.81 L-59.29,-44.84 L-59.41,-45.42 L-59.07,-45.65 L-59.27,-46.31 L-58.39,-46.11 L-58.70,-46.86 L-58.56,-47.25 L-58.10,-47.39 L-57.91,-47.74 L-57.18,-47.64 L-57.52,-48.44 L-56.89,-48.42 L-56.98,-49.01 L-56.69,-49.28 L-55.86,-49.07 L-56.06,-49.77 L-55.90,-50.15 L-54.99,-49.86 L-54.93,-50.33 L-54.96,-50.89 L-54.25,-50.76 L-54.51,-51.55 L-53.78,-51.40 L-53.90,-52.05 L-53.14,-51.85 L-53.11,-52.38 L-53.13,-52.94 L-52.34,-52.71 L-52.10,-53.02 L-51.99,-53.46 L-51.57,-53.59 L-51.09,-53.65 L-50.90,-54.01 L-50.60,-54.26 L-50.83,-55.09 L-50.37,-55.16 L-50.22,-55.58 L-49.44,-55.29 L-49.55,-56.01 L-48.81,-55.76 L-48.79,-56.32 L-48.56,-56.65 L-48.08,-56.69 L-48.11,-57.33 L-47.60,-57.33 L-47.31,-57.60 L-47.20,-58.07 L-46.40,-57.71 L-46.65,-58.65 L-46.11,-58.60 L-45.66,-58.65 L-45.60,-59.21 L-44.96,-59.02 L-45.09,-59.83 L-44.53,-59.74 L-44.08,-59.79 L-44.01,-60.35 L-43.50,-60.32 L-43.03,-60.33 L-43.04,-61.02 L-42.33,-60.67 L-42.45,-61.53 L-41.81,-61.29 L-41.70,-61.83 L-41.57,-62.33 L-41.03,-62.22 L-40.74,-62.50 L-40.23,-62.42 L-39.74,-62.37 L-39.43,-62.61 L-39.17,-62.92 L-39.08,-63.53 L-38.66,-63.58 L-38.37,-63.86 L-38.23,-64.39 L-37.51,-63.94 L-37.23,-64.23 L-37.11,-64.80 L-36.46,-64.45 L-36.12,-64.63 L-35.96,-65.14 L-35.50,-65.12 L-35.28,-65.53 L-34.88,-65.61 L-34.71,-66.12 L-34.37,-66.31 L-33.86,-66.16 L-33.71,-66.73 L-33.30,-66.78 L-32.80,-66.66 L-32.81,-67.57 L-32.16,-67.12 L-31.77,-67.22 L-31.41,-67.35 L-31.29,-68.02 L-31.03,-68.41 L-30.64,-68.51 L-30.14,-68.33 L-29.73,-68.38 L-29.28,-68.32 L-29.18,-69.07 L-28.79,-69.16 L-28.35,-69.13 L-28.11,-69.57 L-27.68,-69.55 L-27.50,-70.17 L-27.06,-70.14 L-26.53,-69.84 L-26.40,-70.61 L-25.74,-69.96 L-25.55,-70.57 L-25.14,-70.61 L-24.72,-70.60 L-24.30,-70.58 L-24.17,-71.40 L-23.56,-70.82 L-23.36,-71.48 L-23.11,-71.99 L-22.50,-71.37 L-22.15,-71.56 L-21.90,-72.08 L-21.50,-72.12 L-21.16,-72.38 L-20.84,-72.67 L-20.29,-72.19 L-19.95,-72.44 L-19.58,-72.55 L-19.14,-72.43 L-18.97,-73.36 L-18.57,-73.38 L-18.17,-73.43 L-17.62,-72.85 L-17.44,-73.78 L-17.04,-73.79 L-16.59,-73.62 L-16.27,-74.00 L-15.82,-73.82 L-15.40,-73.69 L-14.99,-73.67 L-14.63,-73.89 L-14.21,-73.79 L-13.88,-74.18 L-13.57,-74.67 L-13.17,-74.70 L-12.81,-74.94 L-12.40,-74.89 L-11.94,-74.53 L-11.59,-74.89 L-11.19,-74.84 L-10.85,-75.26" fill="none" stroke="#6a6056" stroke-width="0.6"/>
<path d="M6.16,-50.14 L6.47,-49.14 L7.10,-50.53 L7.73,-51.71 L7.74,-48.86 L8.59,-51.30 L8.47,-48.02 L9.06,-48.88 L9.47,-48.74 L10.29,-50.57 L10.89,-51.25 L11.18,-50.44 L11.27,-48.81 L12.19,-50.78 L12.13,-48.66 L12.48,-48.25 L13.56,-50.61 L13.73,-49.50 L14.23,-49.62 L14.64,-49.42 L15.42,-50.45 L15.29,-48.48 L16.15,-49.70 L16.42,-49.07 L17.05,-49.51 L16.95,-47.87 L17.75,-48.76 L17.97,-48.07 L18.04,-47.00 L18.32,-46.51 L19.32,-47.81 L18.94,-45.74 L20.58,-48.49 L19.85,-45.65 L20.07,-45.08 L20.59,-45.19 L22.31,-47.84 L21.77,-45.65 L21.84,-44.77 L22.04,-44.20 L22.45,-44.05 L23.97,-46.06 L24.27,-45.65 L24.79,-45.65 L25.26,-45.57 L24.40,-43.13 L25.77,-44.64 L25.72,-43.67 L26.99,-44.92 L27.38,-44.69 L27.92,-44.68 L26.62,-41.78 L28.64,-44.10 L29.12,-43.99 L29.56,-43.82 L28.14,-40.94 L28.70,-40.99 L28.85,-40.44 L29.02,-39.94 L31.20,-42.16 L31.48,-41.77 L31.42,-40.95 L32.22,-41.24 L32.11,-40.37 L31.63,-39.06 L31.51,-38.22 L31.83,-37.93 L33.77,-39.54 L32.73,-37.65 L33.33,-37.67 L33.91,-37.66 L33.19,-36.22 L34.11,-36.57 L34.48,-36.33 L35.92,-37.20 L35.30,-35.93 L35.47,-35.47 L37.51,-36.86 L36.55,-35.30 L37.80,-35.87 L37.45,-34.92 L36.09,-33.07 L37.44,-33.71 L37.78,-33.42 L39.01,-33.91 L38.05,-32.50 L39.36,-33.02 L39.13,-32.26 L38.44,-31.13 L40.61,-32.30 L38.56,-30.13 L41.00,-31.46 L39.27,-29.60 L38.99,-28.85 L39.83,-28.94 L41.79,-29.81 L42.70,-29.90 L39.88,-27.41 L41.63,-28.08 L41.85,-27.70 L43.04,-27.95 L41.29,-26.31 L42.49,-26.55 L42.22,-25.87 L43.99,-26.43 L42.32,-24.93 L44.76,-25.84 L42.78,-24.20 L42.73,-23.68 L44.52,-24.17 L44.03,-23.41 L42.90,-22.33 L44.85,-22.85 L43.13,-21.50 L45.70,-22.29 L45.55,-21.73 L46.02,-21.46 L45.63,-20.79 L44.84,-19.96 L45.14,-19.63 L45.26,-19.21 L47.14,-19.53 L44.45,-17.96 L47.41,-18.68 L44.49,-17.08 L45.25,-16.92 L45.58,-16.59 L47.98,-16.99 L46.66,-16.07 L46.34,-15.50 L48.27,-15.68 L46.02,-14.51 L46.95,-14.35 L47.31,-14.01 L48.22,-13.83 L48.31,-13.40 L48.01,-12.87 L47.01,-12.16 L47.01,-11.72 L46.46,-11.15 L49.08,-11.33 L48.49,-10.75 L48.86,-10.38 L46.80,-9.52 L47.87,-9.30 L49.18,-9.11 L48.51,-8.55 L46.87,-7.84 L48.19,-7.63 L49.83,-7.45 L47.44,-6.67 L47.31,-6.23 L47.77,-5.87 L49.32,-5.62 L49.89,-5.24 L47.32,-4.56 L47.35,-4.14 L47.73,-3.76 L48.05,-3.36 L48.81,-2.99 L47.46,-2.49 L48.11,-2.10 L47.60,-1.66 L50.59,-1.32 L49.66,-0.87 L47.29,-0.41 L50.56,-0.00 L47.28,0.41 L48.35,0.84 L50.62,1.33 L49.90,1.74 L49.65,2.17 L48.50,2.54 L47.58,2.91 L49.23,3.44 L47.19,3.71 L47.54,4.16 L48.20,4.64 L46.83,4.92 L48.17,5.49 L49.61,6.09 L49.20,6.48 L48.43,6.81 L48.88,7.30 L48.19,7.63 L46.93,7.85 L48.61,8.57 L47.80,8.86 L48.99,9.52 L49.55,10.08 L47.70,10.14 L48.16,10.68 L48.73,11.25 L47.44,11.39 L46.65,11.63 L48.38,12.51 L48.87,13.10 L48.39,13.42 L48.02,13.77 L48.48,14.36 L47.75,14.60 L47.50,14.98 L46.72,15.18 L46.10,15.42 L47.12,16.22 L45.10,15.97 L46.13,16.79 L47.30,17.69 L46.93,18.01 L46.50,18.32 L45.03,18.19 L45.50,18.85 L45.47,19.30 L45.91,19.96 L45.02,20.05 L45.79,20.87 L46.52,21.69 L43.79,20.89 L45.24,22.07 L45.50,22.68 L44.01,22.42 L44.18,23.00 L45.63,24.26 L42.32,22.98 L43.82,24.29 L42.37,23.97 L44.23,25.54 L44.55,26.24 L42.97,25.82 L41.42,25.38 L42.75,26.71 L42.43,27.03 L42.78,27.78 L41.92,27.74 L42.10,28.40 L42.47,29.19 L41.28,28.90 L40.71,29.04 L42.13,30.61 L39.63,29.32 L40.83,30.77 L39.71,30.47 L40.57,31.70 L38.41,30.55 L40.71,32.97 L38.60,31.82 L37.47,31.44 L37.85,32.32 L37.94,32.98 L36.57,32.36 L37.45,33.72 L37.18,34.07 L37.67,35.13 L36.43,34.57 L35.90,34.67 L35.50,34.89 L36.60,36.60 L36.83,37.48 L35.42,36.68 L34.31,36.16 L35.52,38.09 L34.15,37.26 L33.37,37.07 L32.85,37.13 L34.15,39.29 L33.90,39.69 L33.14,39.49 L32.40,39.30 L32.29,39.87 L31.15,39.16 L32.54,41.65 L30.77,40.10 L31.08,41.25 L31.13,42.08 L30.77,42.35 L29.63,41.54 L28.90,41.27 L29.09,42.32 L27.82,41.24 L28.95,43.74 L27.58,42.46 L28.22,44.30 L26.66,42.66 L26.50,43.25 L25.89,43.08 L25.84,43.87 L25.00,43.31 L24.28,42.92 L25.23,45.52 L24.03,44.26 L23.58,44.35 L23.29,44.74 L23.20,45.54 L22.72,45.56 L22.66,46.46 L22.29,46.73 L21.40,45.89 L21.89,48.03 L21.35,47.95 L19.72,45.35 L20.46,48.20 L20.15,48.64 L19.55,48.38 L18.22,46.26 L18.75,48.85 L18.06,48.30 L16.83,46.23 L16.41,46.35 L17.16,49.85 L16.37,48.92 L15.46,47.57 L14.87,47.15 L14.49,47.41 L14.17,47.85 L14.32,49.93 L13.44,48.46 L12.82,47.84 L13.11,50.69 L12.56,50.37 L11.56,48.15 L11.75,50.90 L11.07,49.93 L10.76,50.64 L10.23,50.29 L9.95,51.19 L9.43,50.86 L9.01,51.10 L8.16,48.74 L8.02,50.65 L7.48,50.08 L7.15,50.91 L6.56,49.80 L6.32,51.50 L5.73,50.28 L5.17,49.20 L4.73,49.10 L4.27,48.75 L3.94,50.10 L3.39,48.45 L3.06,50.00 L2.56,48.77 L2.19,50.08 L1.75,50.09 L1.32,50.23 L0.90,51.43 L0.42,48.15 L0.00,51.29 L-0.43,49.84 L-0.88,50.17 L-1.32,50.52 L-1.79,51.14 L-2.15,49.32 L-2.59,49.44 L-3.15,51.44 L-3.36,48.02 L-3.94,50.09 L-4.38,50.02 L-4.59,47.65 L-5.23,49.77 L-5.69,49.97 L-6.24,50.83 L-6.38,48.48 L-7.15,50.84 L-7.32,48.98 L-7.73,48.79 L-8.41,50.24 L-8.27,46.91 L-9.15,49.36 L-9.51,48.91 L-9.71,47.73 L-10.53,49.56 L-10.55,47.61 L-11.06,47.89 L-11.51,47.96 L-12.15,48.73 L-12.04,46.54 L-12.66,47.24 L-13.05,47.06 L-13.59,47.40 L-14.29,48.26 L-14.12,46.17 L-15.12,47.97 L-15.04,46.28 L-15.56,46.49 L-15.67,45.50 L-16.36,46.19 L-17.36,47.70 L-17.35,46.40 L-17.93,46.72 L-17.69,44.92 L-18.06,44.70 L-18.42,44.46 L-19.23,45.30 L-19.69,45.29 L-20.31,45.62 L-19.53,42.86 L-21.00,45.03 L-21.65,45.40 L-21.48,44.04 L-21.02,42.16 L-21.82,42.82 L-21.67,41.63 L-22.36,42.05 L-24.05,44.30 L-23.86,43.04 L-24.33,43.00 L-24.95,43.21 L-25.56,43.39 L-25.35,42.20 L-25.73,41.99 L-26.12,41.80 L-26.63,41.80 L-26.79,41.25 L-27.33,41.28 L-26.69,39.57 L-28.02,40.77 L-27.92,39.88 L-28.95,40.58 L-27.83,38.30 L-28.35,38.31 L-28.36,37.63 L-30.40,39.62 L-31.08,39.78 L-30.82,38.75 L-30.48,37.64 L-31.91,38.71 L-32.17,38.34 L-31.96,37.42 L-31.54,36.28 L-31.98,36.14 L-32.61,36.21 L-32.67,35.65 L-33.28,35.69 L-34.16,36.00 L-35.26,36.51 L-33.25,33.83 L-34.94,34.94 L-33.82,33.24 L-34.35,33.17 L-36.56,34.69 L-36.22,33.78 L-37.50,34.36 L-36.48,32.85 L-35.56,31.46 L-36.92,32.09 L-37.81,32.29 L-39.12,32.82 L-39.55,32.60 L-38.36,31.06 L-38.47,30.60 L-37.82,29.55 L-39.74,30.49 L-38.72,29.17 L-38.81,28.72 L-38.66,28.09 L-38.90,27.74 L-41.28,28.90 L-39.79,27.35 L-42.71,28.81 L-40.21,26.61 L-42.95,27.89 L-40.85,26.02 L-40.74,25.46 L-43.26,26.51 L-41.97,25.22 L-43.82,25.81 L-42.27,24.41 L-42.06,23.79 L-44.70,24.78 L-44.74,24.29 L-45.45,24.17 L-45.26,23.56 L-43.31,22.07 L-45.38,22.63 L-45.88,22.38 L-45.25,21.58 L-47.09,21.96 L-44.96,20.49 L-47.63,21.21 L-46.98,20.43 L-44.71,18.98 L-44.91,18.60 L-47.34,19.13 L-48.12,18.96 L-45.70,17.54 L-46.70,17.46 L-48.37,17.60 L-46.53,16.48 L-49.19,16.94 L-48.01,16.06 L-46.63,15.15 L-47.90,15.10 L-48.81,14.92 L-48.46,14.36 L-49.48,14.19 L-47.68,13.22 L-50.21,13.45 L-48.75,12.61 L-49.91,12.45 L-49.99,12.00 L-49.32,11.39 L-49.32,10.93 L-50.92,10.82 L-51.62,10.50 L-51.13,9.94 L-50.42,9.34 L-49.49,8.73 L-48.71,8.15 L-52.22,8.27 L-51.29,7.66 L-51.83,7.28 L-50.04,6.59 L-51.14,6.28 L-52.61,5.99 L-52.11,5.48 L-51.30,4.94 L-50.24,4.40 L-50.74,3.99 L-52.52,3.67 L-50.62,3.10 L-51.82,2.72 L-51.53,2.25 L-52.67,1.84 L-52.35,1.37 L-50.37,0.88 L-49.30,0.43 L-50.30,0.00 L-50.90,-0.44 L-51.52,-0.90 L-52.38,-1.37 L-52.63,-1.84 L-49.40,-2.16 L-52.38,-2.75 L-52.27,-3.20 L-52.44,-3.67 L-51.28,-4.04 L-50.11,-4.38 L-52.24,-5.03 L-52.02,-5.47 L-51.50,-5.87 L-52.30,-6.42 L-50.09,-6.60 L-49.04,-6.89 L-50.72,-7.58 L-51.56,-8.17 L-49.23,-8.24 L-51.20,-9.03 L-51.78,-9.60 L-49.08,-9.54 L-50.36,-10.25 L-50.52,-10.74 L-49.62,-11.00 L-48.54,-11.21 L-48.60,-11.67 L-50.31,-12.54 L-50.32,-13.01 L-48.97,-13.12 L-47.47,-13.16 L-49.95,-14.32 L-49.68,-14.72 L-47.57,-14.54 L-48.67,-15.35 L-49.66,-16.13 L-49.45,-16.55 L-47.97,-16.52 L-47.64,-16.87 L-47.87,-17.42 L-46.26,-17.30 L-46.10,-17.69 L-45.87,-18.07 L-47.52,-19.20 L-46.14,-19.11 L-46.65,-19.80 L-45.88,-19.95 L-46.08,-20.51 L-44.59,-20.32 L-44.03,-20.53 L-47.09,-22.46 L-44.73,-21.82 L-43.60,-21.74 L-45.17,-23.01 L-45.46,-23.66 L-43.10,-22.92 L-44.35,-24.08 L-43.27,-23.99 L-43.61,-24.67 L-41.72,-24.09 L-41.53,-24.46 L-44.40,-26.68 L-43.74,-26.80 L-42.25,-26.40 L-42.25,-26.92 L-41.02,-26.64 L-42.40,-28.06 L-41.01,-27.66 L-42.37,-29.12 L-41.54,-29.08 L-41.41,-29.54 L-41.58,-30.21 L-39.12,-28.95 L-38.19,-28.78 L-38.40,-29.47 L-38.06,-29.74 L-37.49,-29.82 L-37.11,-30.05 L-38.31,-31.58 L-38.92,-32.66 L-37.42,-31.96 L-38.52,-33.49 L-38.11,-33.71 L-35.40,-31.88 L-36.60,-33.54 L-35.73,-33.32 L-34.66,-32.89 L-36.64,-35.39 L-34.42,-33.82 L-34.93,-34.93 L-34.81,-35.42 L-35.32,-36.57 L-34.23,-36.07 L-33.19,-35.59 L-33.00,-36.02 L-31.94,-35.47 L-33.65,-38.03 L-33.37,-38.39 L-31.12,-36.44 L-30.34,-36.16 L-30.54,-37.05 L-30.44,-37.59 L-31.40,-39.48 L-31.05,-39.75 L-30.54,-39.80 L-28.38,-37.66 L-29.72,-40.16 L-29.19,-40.17 L-28.69,-40.22 L-29.07,-41.52 L-26.70,-38.85 L-26.55,-39.36 L-27.48,-41.52 L-27.50,-42.34 L-26.59,-41.73 L-25.46,-40.74 L-25.68,-41.91 L-25.64,-42.67 L-24.01,-40.76 L-24.07,-41.68 L-23.58,-41.67 L-22.97,-41.43 L-23.25,-42.83 L-22.32,-41.98 L-22.08,-42.41 L-21.55,-42.29 L-22.08,-44.29 L-20.59,-42.22 L-21.38,-44.82 L-20.15,-43.21 L-19.53,-42.85 L-20.53,-46.12 L-19.06,-43.84 L-19.74,-46.51 L-19.24,-46.46 L-18.87,-46.71 L-17.43,-44.24 L-17.46,-45.49 L-16.60,-44.41 L-17.30,-47.54 L-16.78,-47.39 L-16.11,-46.79 L-15.49,-46.31 L-14.96,-46.05 L-15.12,-47.95 L-14.32,-46.84 L-14.08,-47.53 L-13.16,-45.90 L-12.85,-46.32 L-12.29,-45.85 L-12.52,-48.39 L-11.95,-47.93 L-11.18,-46.55 L-11.39,-49.36 L-10.47,-47.23 L-10.18,-47.89 L-9.57,-47.05 L-9.25,-47.59 L-9.23,-49.81 L-8.47,-48.03 L-7.95,-47.50 L-7.73,-48.81 L-7.21,-48.26 L-7.10,-50.55 L-6.27,-47.66 L-6.26,-51.01" fill="none" stroke="#3aa2e4" stroke-width="0.72"/>
</g>
<path d="M176,149.4 L174.6,149.4 L174.6,163.4 L176,163.4" fill="none" stroke="#555" stroke-width="0.5"/>
<text x="176.0" y="155.4" font-size="3.5" fill="#222" font-weight="normal" text-anchor="start" >0.50</text>
<text x="176.0" y="163.9" font-size="3.5" fill="#222" font-weight="normal" text-anchor="start" >0</text>
<path d="M174.9,171.2 L173.5,171.2 L173.5,185 L174.9,185" fill="none" stroke="#555" stroke-width="0.5"/>
<text x="175.4" y="173.6" font-size="3.3" fill="#222" font-weight="normal" text-anchor="start" >0.2</text>
<text x="175.4" y="176.9" font-size="3.3" fill="#222" font-weight="normal" text-anchor="start" >0.2</text>
<text x="175.4" y="180.2" font-size="3.3" fill="#222" font-weight="normal" text-anchor="start" >0</text>
<text x="175.4" y="183.5" font-size="3.3" fill="#222" font-weight="normal" text-anchor="start" >-0.2</text>
<text x="175.4" y="186.79999999999998" font-size="3.3" fill="#222" font-weight="normal" text-anchor="start" >-0.4</text>
<rect x="172.6" y="176.3" width="4" height="2.6" fill="#3ea6e6" opacity="0.6"/>
<text x="178.2" y="122.0" font-size="3.6" fill="#333" text-anchor="start" transform="rotate(11.5 178.2 122.0)">chr1 3,000,000</text>
<text x="147.3" y="129.4" font-size="4.1" fill="#3848c8" text-anchor="start" transform="rotate(-12 147.3 129.4)">trnGB</text>
<text x="173.8" y="170.9" font-size="3.6" fill="#222" text-anchor="start" transform="rotate(12.5 173.8 170.9)">chr1 3,000,000</text>
<text x="173.4" y="191.8" font-size="3.6" fill="#222" text-anchor="start" transform="rotate(18 173.4 191.8)">chr1 3,000,000</text>
<text x="146" y="156.3" font-size="3.5" fill="#222" text-anchor="start" transform="rotate(-17 146 156.3)">GC content</text>
<text x="151.2" y="177.6" font-size="3.6" fill="#222" text-anchor="start" transform="rotate(-14.5 151.2 177.6)">GC skew</text>
<text x="131.5" y="236.5" font-size="3.65" fill="#333" text-anchor="start" transform="rotate(55 131.5 236.5)">NNNNN 1 Mb</text>
<text x="192" y="254.5" font-size="3.65" fill="#333" text-anchor="start" transform="rotate(-55 192 254.5)">NNNNN 2 Mb</text>
<text x="211.5" y="267.5" font-size="3.65" fill="#333" text-anchor="start" transform="rotate(-55 211.5 267.5)">NNNNN 2 Mb</text>
<text x="111.5" y="247.5" font-size="3.65" fill="#333" text-anchor="start" transform="rotate(55 111.5 247.5)">NNNNN 1 Mb</text>
<text x="253.8" y="293.2" font-size="3.65" fill="#333" text-anchor="start" transform="rotate(-55 253.8 293.2)">NNNNN 2 Mb</text>
<text x="68.4" y="269.8" font-size="3.65" fill="#333" text-anchor="start" transform="rotate(56 68.4 269.8)">NNNNN 1 Mb</text>
<polygon points="55.2,208.6 90.8,214.4 89.6,220.6 54.0,214.6" fill="#a9c4dc" fill-opacity="0.75" stroke="#7b8a99" stroke-width="0.6"/>
<line x1="430.6" y1="105.5" x2="517" y2="105.5" stroke="#e3e3e3" stroke-width="0.9"/>
<line x1="287.6" y1="122.0" x2="287.6" y2="123.6" stroke="#888" stroke-width="0.5"/>
<text x="287.6" y="119.8" font-size="3.4" fill="#333" font-weight="normal" text-anchor="start" >660,000</text>
<line x1="330.7" y1="122.0" x2="330.7" y2="123.6" stroke="#888" stroke-width="0.5"/>
<text x="330.7" y="119.8" font-size="3.4" fill="#333" font-weight="normal" text-anchor="middle" >chr1 665,000</text>
<line x1="373.8" y1="122.0" x2="373.8" y2="123.6" stroke="#888" stroke-width="0.5"/>
<text x="373.8" y="119.8" font-size="3.4" fill="#333" font-weight="normal" text-anchor="middle" >chr1 670,000</text>
<line x1="416.6" y1="122.0" x2="416.6" y2="123.6" stroke="#888" stroke-width="0.5"/>
<text x="416.6" y="119.8" font-size="3.4" fill="#333" font-weight="normal" text-anchor="middle" >chr1 675,000</text>
<line x1="459.5" y1="122.0" x2="459.5" y2="123.6" stroke="#888" stroke-width="0.5"/>
<text x="459.5" y="119.8" font-size="3.4" fill="#333" font-weight="normal" text-anchor="middle" >chr1 680,000</text>
<line x1="502.2" y1="122.0" x2="502.2" y2="123.6" stroke="#888" stroke-width="0.5"/>
<text x="502.2" y="119.8" font-size="3.4" fill="#333" font-weight="normal" text-anchor="middle" >chr1 685,000</text>
<line x1="286.7" y1="122.8" x2="516.3" y2="122.8" stroke="#ddd" stroke-width="0.5"/>
<text x="287.6" y="127.0" font-size="3.5" fill="#222" font-weight="normal" text-anchor="start" >Features</text>
<line x1="286.7" y1="128.4" x2="513" y2="128.4" stroke="#888" stroke-width="0.75"/>
<polygon points="516.2,128.4 512.0,126.7 512.0,130.1" fill="#777"/>
<line x1="286.7" y1="122.3" x2="286.7" y2="317.4" stroke="#999" stroke-width="0.7"/>
<line x1="516.3" y1="122.6" x2="516.3" y2="327" stroke="#bbb" stroke-width="0.6"/>
<text x="279.6" y="132.0" font-size="9.6" fill="#000" font-weight="bold" text-anchor="start" >2</text>
<line x1="288" y1="138.7" x2="371" y2="138.7" stroke="#5f72ea" stroke-width="1.3"/>
<line x1="373" y1="138.7" x2="405.4" y2="138.7" stroke="#5f72ea" stroke-width="1.3"/>
<line x1="408.3" y1="138.7" x2="498.5" y2="138.7" stroke="#5f72ea" stroke-width="1.3"/>
<line x1="503" y1="138.7" x2="511" y2="138.7" stroke="#5f72ea" stroke-width="1.3"/>
<polygon points="291.00,138.70 287.80,136.60 287.80,140.80" fill="#5f72ea"/>
<polygon points="295.20,138.70 296.60,136.60 298.20,136.60 299.60,138.70 298.20,140.80 296.60,140.80" fill="#5f72ea"/>
<polygon points="295.60,138.70 298.80,136.60 298.80,140.80" fill="#5f72ea"/>
<polygon points="301.00,138.70 304.20,136.60 304.20,140.80" fill="#5f72ea"/>
<polygon points="308.00,138.70 311.20,136.60 311.20,140.80" fill="#5f72ea"/>
<polygon points="322.50,138.70 325.70,136.60 325.70,140.80" fill="#5f72ea"/>
<polygon points="344.00,138.70 347.20,136.60 347.20,140.80" fill="#5f72ea"/>
<polygon points="352.00,138.70 355.20,136.60 355.20,140.80" fill="#5f72ea"/>
<polygon points="363.00,138.70 366.20,136.60 366.20,140.80" fill="#5f72ea"/>
<polygon points="383.30,138.70 380.10,136.60 380.10,140.80" fill="#5f72ea"/>
<polygon points="394.30,138.70 395.70,136.60 397.30,136.60 398.70,138.70 397.30,140.80 395.70,140.80" fill="#5f72ea"/>
<polygon points="401.30,138.70 404.50,136.60 404.50,140.80" fill="#5f72ea"/>
<polygon points="410.30,138.70 411.70,136.60 413.30,136.60 414.70,138.70 413.30,140.80 411.70,140.80" fill="#5f72ea"/>
<polygon points="410.00,138.70 413.20,136.60 413.20,140.80" fill="#5f72ea"/>
<polygon points="418.00,138.70 421.20,136.60 421.20,140.80" fill="#5f72ea"/>
<polygon points="443.40,138.70 440.20,136.60 440.20,140.80" fill="#5f72ea"/>
<polygon points="455.00,138.70 451.80,136.60 451.80,140.80" fill="#5f72ea"/>
<polygon points="475.60,138.70 472.40,136.60 472.40,140.80" fill="#5f72ea"/>
<polygon points="486.30,138.70 483.10,136.60 483.10,140.80" fill="#5f72ea"/>
<polygon points="497.80,138.70 494.60,136.60 494.60,140.80" fill="#5f72ea"/>
<polygon points="503.60,138.70 506.80,136.60 506.80,140.80" fill="#5f72ea"/>
<polygon points="507.40,138.70 510.60,136.60 510.60,140.80" fill="#5f72ea"/>
<line x1="288" y1="149.0" x2="371" y2="149.0" stroke="#ea8080" stroke-width="1.3"/>
<line x1="373" y1="149.0" x2="405.5" y2="149.0" stroke="#ea8080" stroke-width="1.3"/>
<line x1="408.3" y1="149.0" x2="509" y2="149.0" stroke="#ea8080" stroke-width="1.3"/>
<polygon points="288.40,149.00 291.60,146.90 291.60,151.10" fill="#ea8080"/>
<polygon points="295.20,149.00 296.60,146.90 298.20,146.90 299.60,149.00 298.20,151.10 296.60,151.10" fill="#ea8080"/>
<polygon points="301.00,149.00 304.20,146.90 304.20,151.10" fill="#ea8080"/>
<polygon points="308.00,149.00 311.20,146.90 311.20,151.10" fill="#ea8080"/>
<polygon points="322.50,149.00 325.70,146.90 325.70,151.10" fill="#ea8080"/>
<polygon points="344.00,149.00 347.20,146.90 347.20,151.10" fill="#ea8080"/>
<polygon points="352.00,149.00 355.20,146.90 355.20,151.10" fill="#ea8080"/>
<polygon points="363.00,149.00 366.20,146.90 366.20,151.10" fill="#ea8080"/>
<polygon points="383.30,149.00 380.10,146.90 380.10,151.10" fill="#ea8080"/>
<polygon points="394.30,149.00 395.70,146.90 397.30,146.90 398.70,149.00 397.30,151.10 395.70,151.10" fill="#ea8080"/>
<polygon points="401.50,149.00 404.70,146.90 404.70,151.10" fill="#ea8080"/>
<polygon points="409.50,149.00 410.90,146.90 412.50,146.90 413.90,149.00 412.50,151.10 410.90,151.10" fill="#ea8080"/>
<polygon points="414.00,149.00 417.20,146.90 417.20,151.10" fill="#ea8080"/>
<polygon points="417.00,149.00 420.20,146.90 420.20,151.10" fill="#ea8080"/>
<polygon points="443.40,149.00 440.20,146.90 440.20,151.10" fill="#ea8080"/>
<polygon points="455.00,149.00 451.80,146.90 451.80,151.10" fill="#ea8080"/>
<polygon points="475.60,149.00 472.40,146.90 472.40,151.10" fill="#ea8080"/>
<polygon points="486.30,149.00 483.10,146.90 483.10,151.10" fill="#ea8080"/>
<polygon points="494.30,149.00 495.70,146.90 497.30,146.90 498.70,149.00 497.30,151.10 495.70,151.10" fill="#ea8080"/>
<polygon points="503.80,149.00 507.00,146.90 507.00,151.10" fill="#ea8080"/>
<text x="313.2" y="136.2" font-size="4.6" fill="#7080e8" font-weight="normal" text-anchor="start" >pstA</text>
<text x="355" y="136.2" font-size="4.6" fill="#d0d4f4" font-weight="normal" text-anchor="start" >yjgQ</text>
<text x="383.2" y="136.2" font-size="4.6" fill="#7080e8" font-weight="normal" text-anchor="start" >ymgQ</text>
<polygon points="414.6,180.9 418.0,179.20000000000002 418.0,182.6" fill="#5ce4e4"/>
<line x1="417.7" y1="180.9" x2="420.2" y2="180.9" stroke="#5ce4e4" stroke-width="2.0"/>
<polygon points="492.4,181.0 495.79999999999995,179.3 495.79999999999995,182.7" fill="#5ce4e4"/>
<line x1="495.49999999999994" y1="181.0" x2="507.4" y2="181.0" stroke="#5ce4e4" stroke-width="2.0"/>
<polygon points="506.4,191.5 510.2,189.6 510.2,193.4" fill="#6a3fc8"/>
<line x1="509.9" y1="191.5" x2="512.2" y2="191.5" stroke="#6a3fc8" stroke-width="1.8"/>
<polygon points="506.6,201.6 510.40000000000003,199.7 510.40000000000003,203.5" fill="#e070e0"/>
<line x1="510.1" y1="201.6" x2="512.2" y2="201.6" stroke="#e070e0" stroke-width="1.8"/>
<line x1="286.7" y1="207.0" x2="516.3" y2="207.0" stroke="#999" stroke-width="0.7"/>
<text x="287.6" y="210.8" font-size="3.4" fill="#222" font-weight="normal" text-anchor="start" >GC content</text>
<text x="280.6" y="213.7" font-size="9.6" fill="#000" font-weight="bold" text-anchor="start" >3</text>
<text x="512.8" y="208.89999999999998" font-size="3.2" fill="#444" font-weight="normal" text-anchor="end" >70</text>
<line x1="514.6" y1="207.70" x2="516.3" y2="207.70" stroke="#999" stroke-width="0.4"/>
<line x1="286.7" y1="214.77" x2="512" y2="214.77" stroke="#f0f0f0" stroke-width="0.5"/>
<text x="512.8" y="215.96999999999997" font-size="3.2" fill="#444" font-weight="normal" text-anchor="end" >60</text>
<line x1="514.6" y1="214.77" x2="516.3" y2="214.77" stroke="#999" stroke-width="0.4"/>
<line x1="286.7" y1="221.84" x2="512" y2="221.84" stroke="#f0f0f0" stroke-width="0.5"/>
<text x="512.8" y="223.03999999999996" font-size="3.2" fill="#444" font-weight="normal" text-anchor="end" >50</text>
<line x1="514.6" y1="221.84" x2="516.3" y2="221.84" stroke="#999" stroke-width="0.4"/>
<line x1="286.7" y1="228.91" x2="512" y2="228.91" stroke="#f0f0f0" stroke-width="0.5"/>
<text x="512.8" y="230.10999999999999" font-size="3.2" fill="#444" font-weight="normal" text-anchor="end" >40</text>
<line x1="514.6" y1="228.91" x2="516.3" y2="228.91" stroke="#999" stroke-width="0.4"/>
<line x1="286.7" y1="235.98" x2="512" y2="235.98" stroke="#f0f0f0" stroke-width="0.5"/>
<text x="512.8" y="237.17999999999998" font-size="3.2" fill="#444" font-weight="normal" text-anchor="end" >30</text>
<line x1="514.6" y1="235.98" x2="516.3" y2="235.98" stroke="#999" stroke-width="0.4"/>
<line x1="286.7" y1="243.05" x2="512" y2="243.05" stroke="#f0f0f0" stroke-width="0.5"/>
<text x="512.8" y="244.24999999999997" font-size="3.2" fill="#444" font-weight="normal" text-anchor="end" >20</text>
<line x1="514.6" y1="243.05" x2="516.3" y2="243.05" stroke="#999" stroke-width="0.4"/>
<line x1="286.7" y1="250.12" x2="512" y2="250.12" stroke="#f0f0f0" stroke-width="0.5"/>
<text x="512.8" y="251.32" font-size="3.2" fill="#444" font-weight="normal" text-anchor="end" >10</text>
<line x1="514.6" y1="250.12" x2="516.3" y2="250.12" stroke="#999" stroke-width="0.4"/>
<line x1="286.7" y1="257.19" x2="512" y2="257.19" stroke="#f0f0f0" stroke-width="0.5"/>
<text x="512.8" y="258.39" font-size="3.2" fill="#444" font-weight="normal" text-anchor="end" >0</text>
<line x1="514.6" y1="257.19" x2="516.3" y2="257.19" stroke="#999" stroke-width="0.4"/>
<path d="M287.20,227.20 L288.30,227.05 L289.40,227.92 L290.50,227.93 L291.60,227.37 L292.70,227.38 L293.80,227.03 L296.00,228.11 L297.13,227.46 L298.27,226.99 L299.40,226.89 L300.50,226.60 L301.60,226.24 L302.70,225.28 L303.80,225.11 L304.90,225.27 L306.00,224.27 L307.10,224.48 L308.75,224.68 L310.40,225.78 L311.53,224.78 L312.67,225.18 L313.80,224.57 L315.27,224.65 L316.73,224.77 L318.20,225.67 L319.30,225.47 L320.40,225.25 L321.50,225.50 L322.60,225.93 L323.70,225.29 L324.80,225.50 L325.90,225.07 L327.00,225.02 L328.10,225.42 L329.23,225.14 L330.35,224.51 L331.48,224.19 L332.60,223.97 L334.25,224.74 L335.90,225.00 L337.00,225.32 L338.10,225.76 L339.20,226.59 L340.30,227.10 L341.40,227.62 L342.50,227.87 L343.60,227.00 L344.70,226.32 L345.80,226.29 L346.93,225.66 L348.07,225.54 L349.20,224.64 L350.30,225.45 L351.40,225.27 L352.50,225.87 L353.60,225.69 L354.70,225.19 L355.80,224.61 L357.27,224.79 L358.73,223.91 L360.20,223.70 L361.30,223.51 L362.40,223.75 L363.50,224.57 L364.63,225.36 L365.77,226.36 L366.90,227.70 L368.00,228.41 L369.10,228.47 L370.20,229.42 L371.30,228.62 L372.40,227.95 L373.50,226.90 L374.60,227.01 L375.70,226.72 L376.80,226.39 L377.90,225.79 L379.00,225.94 L380.10,225.51 L381.23,225.60 L382.37,224.85 L383.50,225.30 L384.60,225.73 L385.70,225.73 L386.80,226.11 L387.90,226.32 L389.00,226.53 L390.10,226.32 L391.75,227.62 L393.40,227.58 L394.64,227.67 L395.88,227.72 L397.12,227.96 L398.36,228.53 L399.60,228.02 L400.75,228.30 L401.90,229.01 L403.05,228.83 L404.20,228.91 L405.38,229.28 L406.55,229.16 L407.72,229.02 L408.90,229.06 L410.05,228.28 L411.20,228.60 L412.35,228.17 L413.50,227.34 L414.65,227.10 L415.80,227.09 L416.95,226.80 L418.10,226.32 L419.27,225.83 L420.43,225.69 L421.60,225.11 L422.73,226.24 L423.87,227.22 L425.00,227.42 L426.17,227.36 L427.33,227.10 L428.50,226.23 L429.67,226.39 L430.83,226.12 L432.00,225.31 L433.13,226.34 L434.27,227.67 L435.40,228.42 L436.57,228.08 L437.73,228.29 L438.90,227.92 L440.05,226.60 L441.20,225.54 L442.35,224.64 L443.50,223.75 L444.67,225.25 L445.83,226.18 L447.00,227.33 L448.13,227.89 L449.27,228.54 L450.40,228.54 L451.57,227.98 L452.73,227.40 L453.90,226.45 L455.07,224.50 L456.23,223.24 L457.40,222.01 L458.53,221.96 L459.67,222.26 L460.80,222.06 L461.97,222.81 L463.13,223.34 L464.30,223.42 L465.43,223.64 L466.57,224.44 L467.70,224.42 L468.87,224.18 L470.03,223.57 L471.20,223.35 L472.37,223.64 L473.53,223.87 L474.70,223.43 L475.83,224.81 L476.97,225.41 L478.10,226.64 L479.27,227.12 L480.43,228.13 L481.60,229.24 L482.77,228.83 L483.93,228.37 L485.10,228.42 L486.23,228.11 L487.37,228.29 L488.50,227.53 L489.67,227.31 L490.83,227.35 L492.00,226.70 L493.17,226.78 L494.33,226.76 L495.50,226.11 L496.63,225.68 L497.77,225.61 L498.90,225.43 L500.07,224.89 L501.23,224.63 L502.40,224.41 L504.30,225.03 L506.00,233.93 L507.25,239.83 L508.50,245.79 L510.50,257.00" fill="none" stroke="#a39a8c" stroke-width="0.6"/>
<line x1="287.6" y1="256.6" x2="287.6" y2="258.2" stroke="#888" stroke-width="0.5"/>
<text x="287.6" y="263.0" font-size="3.4" fill="#333" font-weight="normal" text-anchor="start" >660,000</text>
<line x1="330.7" y1="256.6" x2="330.7" y2="258.2" stroke="#888" stroke-width="0.5"/>
<text x="330.7" y="263.0" font-size="3.4" fill="#333" font-weight="normal" text-anchor="middle" >chr1 665,000</text>
<line x1="373.8" y1="256.6" x2="373.8" y2="258.2" stroke="#888" stroke-width="0.5"/>
<text x="373.8" y="263.0" font-size="3.4" fill="#333" font-weight="normal" text-anchor="middle" >chr1 670,000</text>
<line x1="416.6" y1="256.6" x2="416.6" y2="258.2" stroke="#888" stroke-width="0.5"/>
<text x="416.6" y="263.0" font-size="3.4" fill="#333" font-weight="normal" text-anchor="middle" >chr1 675,000</text>
<line x1="459.5" y1="256.6" x2="459.5" y2="258.2" stroke="#888" stroke-width="0.5"/>
<text x="459.5" y="263.0" font-size="3.4" fill="#333" font-weight="normal" text-anchor="middle" >chr1 680,000</text>
<line x1="502.2" y1="256.6" x2="502.2" y2="258.2" stroke="#888" stroke-width="0.5"/>
<text x="502.2" y="263.0" font-size="3.4" fill="#333" font-weight="normal" text-anchor="middle" >chr1 685,000</text>
<line x1="286.7" y1="266.0" x2="516.3" y2="266.0" stroke="#999" stroke-width="0.7"/>
<text x="287.6" y="269.8" font-size="3.4" fill="#222" font-weight="normal" text-anchor="start" >GC skew</text>
<text x="280.4" y="271.6" font-size="9.6" fill="#000" font-weight="bold" text-anchor="start" >4</text>
<text x="513.8" y="267.4" font-size="3.2" fill="#444" font-weight="normal" text-anchor="end" >0.4</text>
<line x1="514.6" y1="266.20" x2="516.3" y2="266.20" stroke="#999" stroke-width="0.4"/>
<line x1="286.7" y1="278.30" x2="512" y2="278.30" stroke="#eee" stroke-width="0.5"/>
<text x="513.8" y="279.5" font-size="3.2" fill="#444" font-weight="normal" text-anchor="end" >0.2</text>
<line x1="514.6" y1="278.30" x2="516.3" y2="278.30" stroke="#999" stroke-width="0.4"/>
<line x1="286.7" y1="290.40" x2="512" y2="290.40" stroke="#eee" stroke-width="0.5"/>
<text x="513.8" y="291.59999999999997" font-size="3.2" fill="#444" font-weight="normal" text-anchor="end" >0</text>
<line x1="514.6" y1="290.40" x2="516.3" y2="290.40" stroke="#999" stroke-width="0.4"/>
<line x1="286.7" y1="302.50" x2="512" y2="302.50" stroke="#eee" stroke-width="0.5"/>
<text x="513.8" y="303.7" font-size="3.2" fill="#444" font-weight="normal" text-anchor="end" >-0.2</text>
<line x1="514.6" y1="302.50" x2="516.3" y2="302.50" stroke="#999" stroke-width="0.4"/>
<text x="513.8" y="315.79999999999995" font-size="3.2" fill="#444" font-weight="normal" text-anchor="end" >-0.4</text>
<line x1="514.6" y1="314.60" x2="516.3" y2="314.60" stroke="#999" stroke-width="0.4"/>
<path d="M287.20,289.40 L288.30,289.07 L289.40,290.21 L290.50,291.08 L291.62,292.06 L292.75,293.37 L293.88,294.88 L295.00,295.49 L296.10,296.72 L297.20,296.67 L298.30,297.18 L299.40,297.66 L300.50,297.78 L301.60,297.88 L303.80,296.06 L304.90,296.23 L306.00,296.92 L307.10,296.90 L308.75,296.95 L310.40,295.67 L311.55,297.65 L312.70,299.92 L313.80,299.76 L314.90,301.20 L316.00,301.99 L317.10,302.07 L318.20,303.70 L319.30,302.95 L321.50,300.86 L322.60,299.32 L323.70,298.66 L324.80,299.53 L325.90,298.20 L327.00,296.96 L328.10,296.91 L329.23,296.63 L330.37,296.77 L331.50,295.34 L333.70,296.63 L334.80,298.48 L335.90,298.71 L337.00,298.31 L338.10,298.26 L339.20,297.92 L340.30,298.10 L341.40,298.66 L342.50,299.73 L343.60,300.35 L345.25,299.38 L346.90,299.31 L348.03,299.81 L349.17,300.34 L350.30,300.36 L351.40,300.15 L352.50,299.29 L353.60,298.90 L355.25,296.82 L356.90,297.33 L358.00,295.62 L359.10,296.68 L360.20,296.15 L362.40,294.50 L363.53,294.69 L364.67,293.42 L365.80,292.56 L368.00,289.88 L369.10,289.30 L370.20,288.12 L371.30,287.00 L373.50,290.42 L375.70,293.03 L376.80,293.71 L377.90,293.21 L379.00,293.61 L380.10,292.79 L381.20,291.40 L382.30,290.20 L383.43,289.52 L384.57,288.16 L385.70,286.10 L387.90,287.10 L389.00,287.40 L390.10,288.33 L391.20,288.80 L392.30,291.36 L393.40,293.21 L394.50,294.20 L395.83,296.68 L397.17,296.73 L398.50,298.68 L399.63,297.14 L400.77,295.81 L401.90,293.00 L403.07,292.21 L404.23,291.86 L405.40,289.17 L406.55,290.98 L407.70,293.61 L408.87,295.26 L410.03,297.75 L411.20,299.26 L412.35,297.92 L413.50,297.75 L414.63,295.03 L415.77,293.13 L416.90,291.51 L418.07,290.61 L419.23,290.16 L420.40,290.16 L421.57,290.28 L422.73,291.83 L423.90,291.90 L425.03,289.94 L426.17,287.52 L427.30,286.29 L428.47,285.96 L429.63,285.87 L430.80,285.53 L431.97,286.58 L433.13,287.26 L434.30,286.98 L435.43,287.13 L436.57,287.68 L437.70,288.54 L438.87,287.67 L440.03,288.22 L441.20,288.94 L442.37,288.14 L443.53,288.69 L444.70,290.11 L445.83,288.92 L446.97,287.45 L448.10,285.84 L449.27,286.04 L450.43,284.56 L451.60,283.64 L452.73,283.40 L453.87,282.69 L455.00,281.37 L456.17,281.82 L457.33,282.94 L458.50,284.22 L459.67,284.84 L460.83,284.94 L462.00,285.56 L463.13,286.45 L464.27,286.54 L465.40,286.25 L466.57,287.21 L467.73,286.47 L468.90,285.32 L470.07,286.48 L471.23,287.66 L472.40,287.37 L473.53,288.42 L474.67,287.66 L475.80,288.57 L476.97,288.32 L478.13,286.71 L479.30,285.69 L480.47,283.72 L481.63,283.06 L482.80,281.99 L483.95,280.60 L485.10,280.35 L486.25,281.05 L487.40,282.75 L488.53,283.43 L489.67,284.55 L490.80,285.46 L491.97,286.82 L493.13,289.14 L494.30,289.33 L495.47,289.09 L496.63,288.97 L497.80,289.34 L498.93,290.32 L500.07,290.43 L501.20,291.22 L502.37,290.26 L503.53,290.47 L504.70,292.06 L505.87,291.77 L507.03,292.90 L508.20,292.75 L509.35,294.39 L510.50,296.50 L511.60,302.02 L512.80,298.10" fill="none" stroke="#56b8e6" stroke-width="0.7"/>
<line x1="287.6" y1="315.9" x2="287.6" y2="317.5" stroke="#888" stroke-width="0.5"/>
<text x="287.6" y="321.6" font-size="3.4" fill="#333" font-weight="normal" text-anchor="start" >660,000</text>
<line x1="330.7" y1="315.9" x2="330.7" y2="317.5" stroke="#888" stroke-width="0.5"/>
<text x="330.7" y="321.6" font-size="3.4" fill="#333" font-weight="normal" text-anchor="middle" >chr1 665,000</text>
<line x1="373.8" y1="315.9" x2="373.8" y2="317.5" stroke="#888" stroke-width="0.5"/>
<text x="373.8" y="321.6" font-size="3.4" fill="#333" font-weight="normal" text-anchor="middle" >chr1 670,000</text>
<line x1="416.6" y1="315.9" x2="416.6" y2="317.5" stroke="#888" stroke-width="0.5"/>
<text x="416.6" y="321.6" font-size="3.4" fill="#333" font-weight="normal" text-anchor="middle" >chr1 675,000</text>
<line x1="459.5" y1="315.9" x2="459.5" y2="317.5" stroke="#888" stroke-width="0.5"/>
<text x="459.5" y="321.6" font-size="3.4" fill="#333" font-weight="normal" text-anchor="middle" >chr1 680,000</text>
<line x1="502.2" y1="315.9" x2="502.2" y2="317.5" stroke="#888" stroke-width="0.5"/>
<text x="502.2" y="321.6" font-size="3.4" fill="#333" font-weight="normal" text-anchor="middle" >chr1 685,000</text>
</svg></body></html>
